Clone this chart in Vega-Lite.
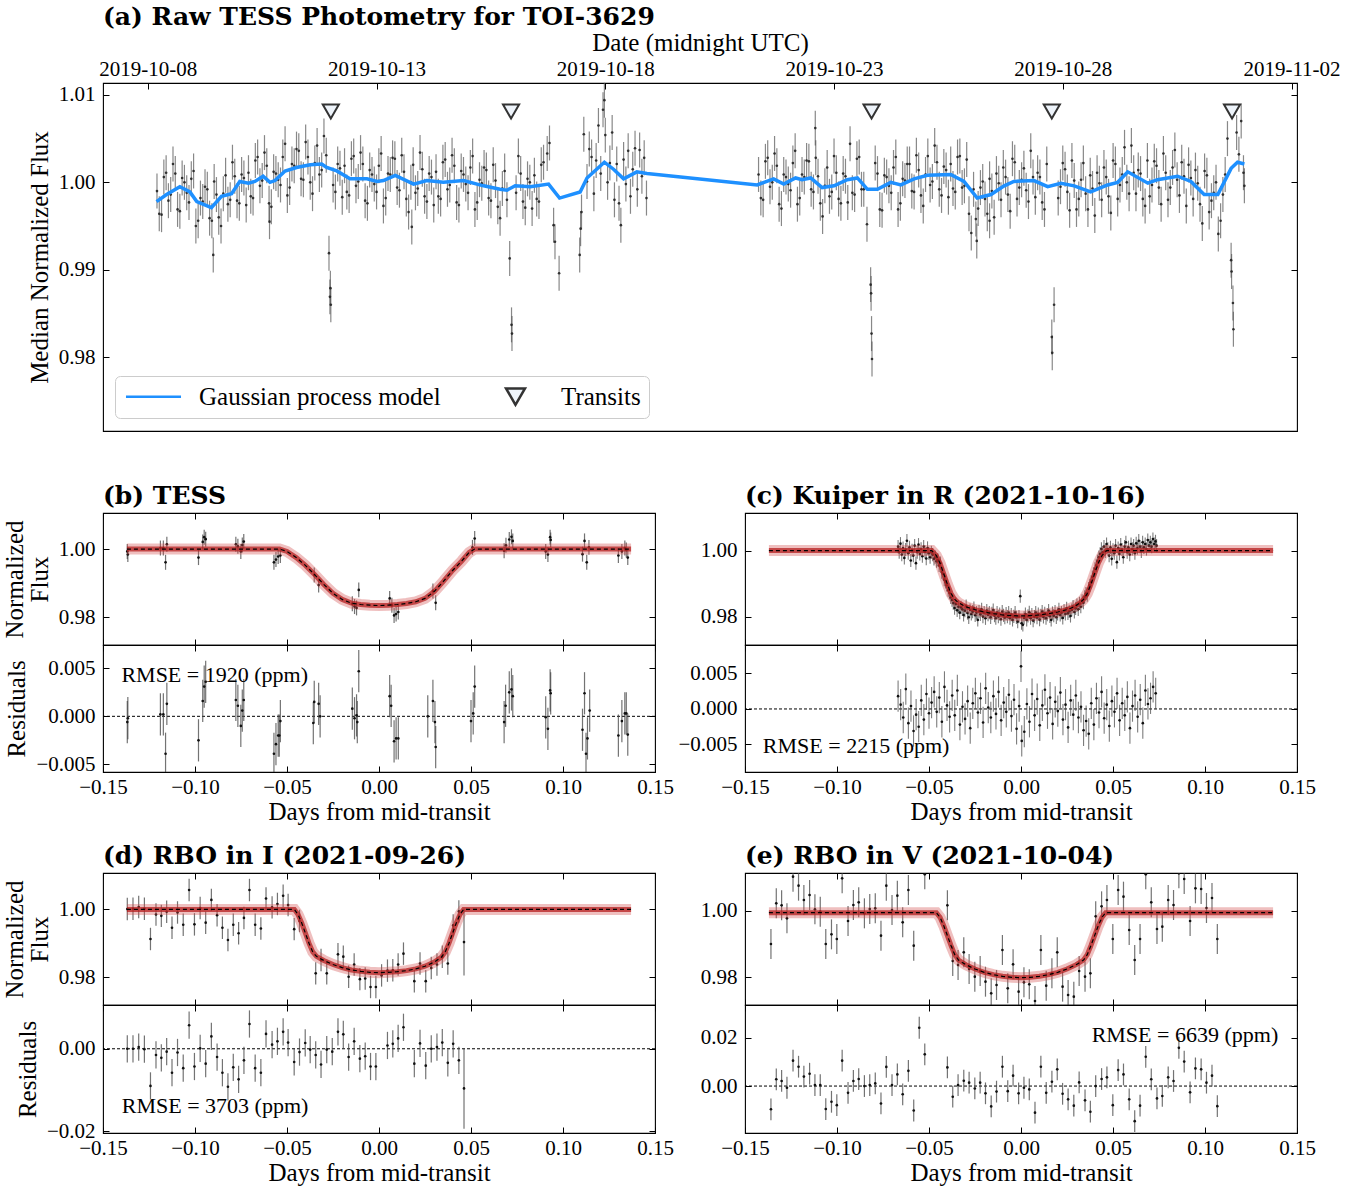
{
"$schema": "https://vega.github.io/schema/vega-lite/v6.json",
"background": "white",
"padding": {"left": 1, "top": 4, "right": 5, "bottom": 5},
"spacing": 50,
"config": {
 "view": {"stroke": "black", "strokeWidth": 1.1},
 "font": "Liberation Serif",
 "axis": {"domain": false, "grid": false, "ticks": true, "tickColor": "black", "tickSize": -6, "tickWidth": 1, "labelFont": "Liberation Serif", "labelFontSize": 21, "labelColor": "black", "labelPadding": 10, "labelFlush": false, "labelOverlap": false, "titleFont": "Liberation Serif", "titleFontSize": 25, "titleFontWeight": "normal", "titleColor": "black", "titlePadding": 6, "titleLineHeight": 25},
 "axisLeft": {"labelPadding": 14},
 "axisRight": {"labelPadding": 14},
 "axisTop": {"titlePadding": 3},
 "title": {"font": "DejaVu Serif", "fontSize": 25, "fontWeight": "bold", "anchor": "start", "frame": "group", "color": "black", "offset": 4}
},
"datasets": {
 "ptsA": [
  {"t":1764.70,"f":0.9990,"e":0.002},{"t":1764.80,"f":0.9963,"e":0.002},{"t":1764.90,"f":1.0011,"e":0.002},{"t":1765.00,"f":0.9986,"e":0.002},{"t":1765.10,"f":1.0010,"e":0.002},{"t":1765.20,"f":0.9967,"e":0.002},{"t":1765.30,"f":1.0000,"e":0.002},{"t":1765.40,"f":0.9977,"e":0.002},{"t":1765.50,"f":1.0013,"e":0.002},{"t":1765.60,"f":0.9956,"e":0.002},{"t":1765.70,"f":0.9978,"e":0.002},{"t":1765.80,"f":0.9992,"e":0.002},{"t":1765.90,"f":0.9956,"e":0.002},{"t":1765.93,"f":0.9917,"e":0.002},{"t":1766.00,"f":0.9986,"e":0.002},{"t":1766.10,"f":0.9950,"e":0.002},{"t":1766.20,"f":1.0008,"e":0.002},{"t":1766.30,"f":0.9980,"e":0.002},{"t":1766.40,"f":1.0007,"e":0.002},{"t":1766.50,"f":0.9976,"e":0.002},{"t":1766.60,"f":1.0005,"e":0.002},{"t":1766.70,"f":1.0011,"e":0.002},{"t":1766.80,"f":0.9982,"e":0.002},{"t":1766.90,"f":1.0029,"e":0.002},{"t":1767.00,"f":1.0002,"e":0.002},{"t":1767.10,"f":1.0019,"e":0.002},{"t":1767.16,"f":0.9955,"e":0.002},{"t":1767.20,"f":0.9972,"e":0.002},{"t":1767.30,"f":1.0010,"e":0.002},{"t":1767.40,"f":0.9997,"e":0.002},{"t":1767.50,"f":1.0044,"e":0.002},{"t":1767.60,"f":0.9994,"e":0.002},{"t":1767.70,"f":1.0019,"e":0.002},{"t":1767.80,"f":1.0036,"e":0.002},{"t":1767.90,"f":1.0003,"e":0.002},{"t":1768.00,"f":1.0029,"e":0.002},{"t":1768.10,"f":0.9987,"e":0.002},{"t":1768.20,"f":1.0042,"e":0.002},{"t":1768.30,"f":1.0014,"e":0.002},{"t":1768.40,"f":1.0031,"e":0.002},{"t":1768.46,"f":0.9919,"e":0.002},{"t":1768.48,"f":0.9869,"e":0.002},{"t":1768.49,"f":0.9879,"e":0.002},{"t":1768.50,"f":0.9860,"e":0.002},{"t":1768.60,"f":0.9989,"e":0.002},{"t":1768.70,"f":1.0016,"e":0.002},{"t":1768.80,"f":1.0019,"e":0.002},{"t":1768.90,"f":0.9985,"e":0.002},{"t":1769.00,"f":1.0030,"e":0.002},{"t":1769.10,"f":1.0001,"e":0.002},{"t":1769.20,"f":1.0021,"e":0.002},{"t":1769.30,"f":0.9976,"e":0.002},{"t":1769.40,"f":1.0009,"e":0.002},{"t":1769.50,"f":0.9989,"e":0.002},{"t":1769.60,"f":1.0033,"e":0.002},{"t":1769.70,"f":0.9982,"e":0.002},{"t":1769.80,"f":1.0009,"e":0.002},{"t":1769.90,"f":1.0027,"e":0.002},{"t":1770.00,"f":0.9991,"e":0.002},{"t":1770.10,"f":1.0012,"e":0.002},{"t":1770.20,"f":0.9966,"e":0.002},{"t":1770.27,"f":0.9949,"e":0.002},{"t":1770.30,"f":1.0020,"e":0.002},{"t":1770.40,"f":0.9993,"e":0.002},{"t":1770.50,"f":1.0015,"e":0.002},{"t":1770.60,"f":0.9978,"e":0.002},{"t":1770.70,"f":1.0006,"e":0.002},{"t":1770.80,"f":1.0012,"e":0.002},{"t":1770.90,"f":0.9981,"e":0.002},{"t":1771.00,"f":1.0026,"e":0.002},{"t":1771.10,"f":0.9997,"e":0.002},{"t":1771.20,"f":1.0019,"e":0.002},{"t":1771.30,"f":0.9974,"e":0.002},{"t":1771.40,"f":1.0009,"e":0.002},{"t":1771.50,"f":0.9988,"e":0.002},{"t":1771.60,"f":1.0030,"e":0.002},{"t":1771.70,"f":0.9977,"e":0.002},{"t":1771.80,"f":0.9999,"e":0.002},{"t":1771.90,"f":1.0014,"e":0.002},{"t":1772.00,"f":0.9979,"e":0.002},{"t":1772.10,"f":1.0002,"e":0.002},{"t":1772.20,"f":0.9959,"e":0.002},{"t":1772.30,"f":1.0013,"e":0.002},{"t":1772.41,"f":0.9913,"e":0.002},{"t":1772.45,"f":0.9837,"e":0.002},{"t":1772.46,"f":0.9827,"e":0.002},{"t":1772.55,"f":0.9988,"e":0.002},{"t":1772.65,"f":1.0010,"e":0.002},{"t":1772.75,"f":0.9971,"e":0.002},{"t":1772.85,"f":1.0000,"e":0.002},{"t":1772.95,"f":1.0008,"e":0.002},{"t":1773.05,"f":0.9978,"e":0.002},{"t":1773.15,"f":1.0023,"e":0.002},{"t":1773.23,"f":1.0033,"e":0.002},{"t":1773.28,"f":1.0045,"e":0.002},{"t":1773.37,"f":0.9951,"e":0.002},{"t":1773.40,"f":0.9932,"e":0.002},{"t":1773.49,"f":0.9896,"e":0.002},{"t":1773.94,"f":0.9917,"e":0.002},{"t":1773.96,"f":0.9947,"e":0.002},{"t":1773.98,"f":0.9966,"e":0.002},{"t":1774.03,"f":1.0055,"e":0.002},{"t":1774.10,"f":1.0001,"e":0.002},{"t":1774.15,"f":1.0038,"e":0.002},{"t":1774.20,"f":1.0029,"e":0.002},{"t":1774.25,"f":0.9987,"e":0.002},{"t":1774.30,"f":1.0025,"e":0.002},{"t":1774.35,"f":1.0065,"e":0.002},{"t":1774.40,"f":1.0010,"e":0.002},{"t":1774.45,"f":1.0083,"e":0.002},{"t":1774.48,"f":1.0094,"e":0.002},{"t":1774.50,"f":1.0054,"e":0.002},{"t":1774.55,"f":1.0000,"e":0.002},{"t":1774.60,"f":1.0022,"e":0.002},{"t":1774.65,"f":1.0057,"e":0.002},{"t":1774.70,"f":0.9980,"e":0.002},{"t":1774.75,"f":1.0021,"e":0.002},{"t":1774.80,"f":0.9976,"e":0.002},{"t":1774.84,"f":0.9951,"e":0.002},{"t":1774.90,"f":1.0026,"e":0.002},{"t":1774.95,"f":0.9998,"e":0.002},{"t":1775.00,"f":1.0036,"e":0.002},{"t":1775.05,"f":0.9984,"e":0.002},{"t":1775.10,"f":1.0015,"e":0.002},{"t":1775.15,"f":1.0039,"e":0.002},{"t":1775.20,"f":0.9992,"e":0.002},{"t":1775.25,"f":1.0037,"e":0.002},{"t":1775.30,"f":1.0007,"e":0.002},{"t":1775.35,"f":1.0028,"e":0.002},{"t":1775.40,"f":0.9982,"e":0.002},
  {"t":1764.75,"f":0.9964,"e":0.002},{"t":1764.85,"f":1.0006,"e":0.002},{"t":1764.95,"f":0.9979,"e":0.002},{"t":1765.05,"f":1.0021,"e":0.002},{"t":1765.15,"f":0.9969,"e":0.002},{"t":1765.25,"f":1.0005,"e":0.002},{"t":1765.35,"f":0.9988,"e":0.002},{"t":1765.45,"f":1.0004,"e":0.002},{"t":1765.55,"f":0.9950,"e":0.002},{"t":1765.65,"f":0.9982,"e":0.002},{"t":1765.75,"f":0.9995,"e":0.002},{"t":1765.85,"f":0.9959,"e":0.002},{"t":1765.95,"f":1.0001,"e":0.002},{"t":1766.05,"f":0.9960,"e":0.002},{"t":1766.15,"f":0.9987,"e":0.002},{"t":1766.25,"f":0.9975,"e":0.002},{"t":1766.35,"f":1.0023,"e":0.002},{"t":1766.45,"f":0.9979,"e":0.002},{"t":1766.55,"f":1.0009,"e":0.002},{"t":1766.65,"f":0.9974,"e":0.002},{"t":1766.75,"f":0.9984,"e":0.002},{"t":1766.85,"f":1.0025,"e":0.002},{"t":1766.95,"f":0.9996,"e":0.002},{"t":1767.05,"f":1.0034,"e":0.002},{"t":1767.15,"f":0.9976,"e":0.002},{"t":1767.25,"f":1.0012,"e":0.002},{"t":1767.35,"f":1.0003,"e":0.002},{"t":1767.45,"f":1.0029,"e":0.002},{"t":1767.55,"f":0.9985,"e":0.002},{"t":1767.65,"f":1.0021,"e":0.002},{"t":1767.75,"f":1.0038,"e":0.002},{"t":1767.85,"f":1.0004,"e":0.002},{"t":1767.95,"f":1.0046,"e":0.002},{"t":1768.05,"f":1.0000,"e":0.002},{"t":1768.15,"f":1.0022,"e":0.002},{"t":1768.25,"f":1.0009,"e":0.002},{"t":1768.35,"f":1.0053,"e":0.002},{"t":1768.55,"f":0.9997,"e":0.002},{"t":1768.65,"f":1.0021,"e":0.002},{"t":1768.75,"f":0.9983,"e":0.002},{"t":1768.85,"f":0.9989,"e":0.002},{"t":1768.95,"f":1.0027,"e":0.002},{"t":1769.05,"f":0.9996,"e":0.002},{"t":1769.15,"f":1.0034,"e":0.002},{"t":1769.25,"f":0.9979,"e":0.002},{"t":1769.35,"f":1.0014,"e":0.002},{"t":1769.45,"f":0.9998,"e":0.002},{"t":1769.55,"f":1.0019,"e":0.002},{"t":1769.65,"f":0.9973,"e":0.002},{"t":1769.75,"f":1.0010,"e":0.002},{"t":1769.85,"f":1.0028,"e":0.002},{"t":1769.95,"f":0.9994,"e":0.002},{"t":1770.05,"f":1.0031,"e":0.002},{"t":1770.15,"f":0.9981,"e":0.002},{"t":1770.25,"f":1.0000,"e":0.002},{"t":1770.35,"f":0.9988,"e":0.002},{"t":1770.45,"f":1.0034,"e":0.002},{"t":1770.55,"f":0.9984,"e":0.002},{"t":1770.65,"f":1.0010,"e":0.002},{"t":1770.75,"f":0.9974,"e":0.002},{"t":1770.85,"f":0.9984,"e":0.002},{"t":1770.95,"f":1.0023,"e":0.002},{"t":1771.05,"f":0.9992,"e":0.002},{"t":1771.15,"f":1.0031,"e":0.002},{"t":1771.25,"f":0.9977,"e":0.002},{"t":1771.35,"f":1.0013,"e":0.002},{"t":1771.45,"f":0.9998,"e":0.002},{"t":1771.55,"f":1.0017,"e":0.002},{"t":1771.65,"f":0.9969,"e":0.002},{"t":1771.75,"f":1.0003,"e":0.002},{"t":1771.85,"f":1.0017,"e":0.002},{"t":1771.95,"f":0.9982,"e":0.002},{"t":1772.05,"f":1.0020,"e":0.002},{"t":1772.15,"f":0.9972,"e":0.002},{"t":1772.25,"f":0.9993,"e":0.002},{"t":1772.35,"f":0.9980,"e":0.002},{"t":1772.60,"f":1.0030,"e":0.002},{"t":1772.70,"f":0.9978,"e":0.002},{"t":1772.80,"f":1.0004,"e":0.002},{"t":1772.90,"f":0.9970,"e":0.002},{"t":1773.00,"f":0.9981,"e":0.002},{"t":1773.10,"f":1.0020,"e":0.002},
  {"t":1777.85,"f":1.0009,"e":0.002},{"t":1777.95,"f":0.9980,"e":0.002},{"t":1778.05,"f":1.0028,"e":0.002},{"t":1778.15,"f":1.0000,"e":0.002},{"t":1778.25,"f":1.0019,"e":0.002},{"t":1778.35,"f":0.9970,"e":0.002},{"t":1778.45,"f":1.0006,"e":0.002},{"t":1778.55,"f":0.9991,"e":0.002},{"t":1778.65,"f":1.0036,"e":0.002},{"t":1778.75,"f":0.9982,"e":0.002},{"t":1778.85,"f":1.0006,"e":0.002},{"t":1778.95,"f":1.0024,"e":0.002},{"t":1779.05,"f":0.9989,"e":0.002},{"t":1779.09,"f":1.0062,"e":0.002},{"t":1779.15,"f":1.0007,"e":0.002},{"t":1779.25,"f":0.9961,"e":0.002},{"t":1779.35,"f":1.0017,"e":0.002},{"t":1779.45,"f":0.9989,"e":0.002},{"t":1779.55,"f":1.0011,"e":0.002},{"t":1779.65,"f":0.9976,"e":0.002},{"t":1779.75,"f":1.0007,"e":0.002},{"t":1779.85,"f":1.0044,"e":0.002},{"t":1779.95,"f":0.9986,"e":0.002},{"t":1780.05,"f":1.0029,"e":0.002},{"t":1780.15,"f":0.9992,"e":0.002},{"t":1780.22,"f":0.9952,"e":0.002},{"t":1780.30,"f":0.9883,"e":0.002},{"t":1780.31,"f":0.9873,"e":0.002},{"t":1780.32,"f":0.9827,"e":0.002},{"t":1780.33,"f":0.9798,"e":0.002},{"t":1780.45,"f":1.0010,"e":0.002},{"t":1780.55,"f":0.9968,"e":0.002},{"t":1780.65,"f":1.0006,"e":0.002},{"t":1780.75,"f":0.9988,"e":0.002},{"t":1780.85,"f":1.0029,"e":0.002},{"t":1780.95,"f":0.9976,"e":0.002},{"t":1781.05,"f":1.0002,"e":0.002},{"t":1781.15,"f":1.0021,"e":0.002},{"t":1781.25,"f":0.9989,"e":0.002},{"t":1781.35,"f":1.0014,"e":0.002},{"t":1781.45,"f":0.9973,"e":0.002},{"t":1781.55,"f":1.0030,"e":0.002},{"t":1781.65,"f":1.0001,"e":0.002},{"t":1781.75,"f":1.0023,"e":0.002},{"t":1781.85,"f":0.9985,"e":0.002},{"t":1781.95,"f":1.0014,"e":0.002},{"t":1782.05,"f":1.0021,"e":0.002},{"t":1782.15,"f":0.9989,"e":0.002},{"t":1782.25,"f":1.0030,"e":0.002},{"t":1782.35,"f":0.9996,"e":0.002},{"t":1782.45,"f":0.9964,"e":0.002},{"t":1782.50,"f":0.9942,"e":0.002},{"t":1782.55,"f":0.9992,"e":0.002},{"t":1782.62,"f":0.9933,"e":0.002},{"t":1782.65,"f":0.9970,"e":0.002},{"t":1782.75,"f":1.0001,"e":0.002},{"t":1782.85,"f":0.9964,"e":0.002},{"t":1782.90,"f":0.9956,"e":0.002},{"t":1782.95,"f":0.9990,"e":0.002},{"t":1783.05,"f":1.0010,"e":0.002},{"t":1783.15,"f":0.9980,"e":0.002},{"t":1783.25,"f":1.0006,"e":0.002},{"t":1783.35,"f":0.9967,"e":0.002},{"t":1783.45,"f":1.0023,"e":0.002},{"t":1783.55,"f":0.9994,"e":0.002},{"t":1783.65,"f":1.0016,"e":0.002},{"t":1783.75,"f":0.9978,"e":0.002},{"t":1783.85,"f":1.0006,"e":0.002},{"t":1783.95,"f":1.0011,"e":0.002},{"t":1784.05,"f":0.9977,"e":0.002},{"t":1784.15,"f":1.0021,"e":0.002},{"t":1784.26,"f":0.9823,"e":0.002},{"t":1784.27,"f":0.9805,"e":0.002},{"t":1784.31,"f":0.9860,"e":0.002},{"t":1784.45,"f":0.9995,"e":0.002},{"t":1784.55,"f":1.0015,"e":0.002},{"t":1784.65,"f":0.9968,"e":0.002},{"t":1784.75,"f":1.0002,"e":0.002},{"t":1784.85,"f":0.9981,"e":0.002},{"t":1784.95,"f":1.0022,"e":0.002},{"t":1785.05,"f":0.9969,"e":0.002},{"t":1785.15,"f":0.9993,"e":0.002},{"t":1785.25,"f":1.0011,"e":0.002},{"t":1785.35,"f":0.9980,"e":0.002},{"t":1785.45,"f":1.0006,"e":0.002},{"t":1785.55,"f":0.9965,"e":0.002},{"t":1785.65,"f":1.0021,"e":0.002},{"t":1785.75,"f":0.9997,"e":0.002},{"t":1785.85,"f":1.0040,"e":0.002},{"t":1785.95,"f":0.9987,"e":0.002},{"t":1786.05,"f":1.0011,"e":0.002},{"t":1786.15,"f":1.0014,"e":0.002},{"t":1786.25,"f":0.9981,"e":0.002},{"t":1786.35,"f":1.0025,"e":0.002},{"t":1786.45,"f":0.9997,"e":0.002},{"t":1786.55,"f":1.0019,"e":0.002},{"t":1786.65,"f":0.9975,"e":0.002},{"t":1786.75,"f":1.0011,"e":0.002},{"t":1786.85,"f":0.9994,"e":0.002},{"t":1786.95,"f":1.0037,"e":0.002},{"t":1787.05,"f":0.9985,"e":0.002},{"t":1787.15,"f":1.0007,"e":0.002},{"t":1787.25,"f":1.0020,"e":0.002},{"t":1787.35,"f":0.9981,"e":0.002},{"t":1787.45,"f":0.9999,"e":0.002},{"t":1787.55,"f":0.9953,"e":0.002},{"t":1787.65,"f":1.0008,"e":0.002},{"t":1787.75,"f":0.9979,"e":0.002},{"t":1787.85,"f":1.0000,"e":0.002},{"t":1787.90,"f":0.9941,"e":0.002},{"t":1787.95,"f":0.9956,"e":0.002},{"t":1788.05,"f":1.0009,"e":0.002},{"t":1788.10,"f":1.0050,"e":0.002},{"t":1788.18,"f":0.9911,"e":0.002},{"t":1788.19,"f":0.9898,"e":0.002},{"t":1788.22,"f":0.9862,"e":0.002},{"t":1788.23,"f":0.9832,"e":0.002},{"t":1788.30,"f":1.0057,"e":0.002},{"t":1788.35,"f":1.0032,"e":0.002},{"t":1788.40,"f":1.0070,"e":0.002},{"t":1788.45,"f":1.0011,"e":0.002},{"t":1788.47,"f":0.9996,"e":0.002},
  {"t":1777.90,"f":0.9982,"e":0.002},{"t":1778.00,"f":1.0024,"e":0.002},{"t":1778.10,"f":0.9995,"e":0.002},{"t":1778.20,"f":1.0033,"e":0.002},{"t":1778.30,"f":0.9975,"e":0.002},{"t":1778.40,"f":1.0009,"e":0.002},{"t":1778.50,"f":0.9998,"e":0.002},{"t":1778.60,"f":1.0022,"e":0.002},{"t":1778.70,"f":0.9975,"e":0.002},{"t":1778.80,"f":1.0009,"e":0.002},{"t":1778.90,"f":1.0025,"e":0.002},{"t":1779.00,"f":0.9992,"e":0.002},{"t":1779.10,"f":1.0028,"e":0.002},{"t":1779.20,"f":0.9976,"e":0.002},{"t":1779.30,"f":0.9996,"e":0.002},{"t":1779.40,"f":0.9984,"e":0.002},{"t":1779.50,"f":1.0030,"e":0.002},{"t":1779.60,"f":0.9981,"e":0.002},{"t":1779.70,"f":1.0010,"e":0.002},{"t":1779.80,"f":0.9977,"e":0.002},{"t":1779.90,"f":0.9988,"e":0.002},{"t":1780.00,"f":1.0027,"e":0.002},{"t":1780.10,"f":0.9992,"e":0.002},{"t":1780.40,"f":1.0022,"e":0.002},{"t":1780.50,"f":0.9969,"e":0.002},{"t":1780.60,"f":1.0008,"e":0.002},{"t":1780.70,"f":0.9996,"e":0.002},{"t":1780.80,"f":1.0017,"e":0.002},{"t":1780.90,"f":0.9969,"e":0.002},{"t":1781.00,"f":1.0004,"e":0.002},{"t":1781.10,"f":1.0021,"e":0.002},{"t":1781.20,"f":0.9990,"e":0.002},{"t":1781.30,"f":1.0031,"e":0.002},{"t":1781.40,"f":0.9985,"e":0.002},{"t":1781.50,"f":1.0009,"e":0.002},{"t":1781.60,"f":0.9997,"e":0.002},{"t":1781.70,"f":1.0042,"e":0.002},{"t":1781.80,"f":0.9992,"e":0.002},{"t":1781.90,"f":1.0018,"e":0.002},{"t":1782.00,"f":0.9983,"e":0.002},{"t":1782.10,"f":0.9993,"e":0.002},{"t":1782.20,"f":1.0029,"e":0.002},{"t":1782.30,"f":0.9994,"e":0.002},{"t":1782.40,"f":1.0026,"e":0.002},{"t":1782.60,"f":0.9958,"e":0.002},{"t":1782.70,"f":0.9994,"e":0.002},{"t":1782.80,"f":0.9981,"e":0.002},{"t":1782.90,"f":1.0004,"e":0.002},{"t":1783.00,"f":0.9960,"e":0.002},{"t":1783.10,"f":0.9999,"e":0.002},{"t":1783.20,"f":1.0017,"e":0.002},{"t":1783.30,"f":0.9986,"e":0.002},{"t":1783.40,"f":1.0027,"e":0.002},{"t":1783.50,"f":0.9981,"e":0.002},{"t":1783.60,"f":1.0003,"e":0.002},{"t":1783.70,"f":0.9991,"e":0.002},{"t":1783.80,"f":1.0036,"e":0.002},{"t":1783.90,"f":0.9983,"e":0.002},{"t":1784.00,"f":1.0006,"e":0.002},{"t":1784.10,"f":0.9969,"e":0.002},{"t":1784.40,"f":0.9982,"e":0.002},{"t":1784.50,"f":1.0022,"e":0.002},{"t":1784.60,"f":0.9989,"e":0.002},{"t":1784.70,"f":1.0025,"e":0.002},{"t":1784.80,"f":0.9969,"e":0.002},{"t":1784.90,"f":1.0003,"e":0.002},{"t":1785.00,"f":0.9987,"e":0.002},{"t":1785.10,"f":1.0008,"e":0.002},{"t":1785.20,"f":0.9962,"e":0.002},{"t":1785.30,"f":0.9999,"e":0.002},{"t":1785.40,"f":1.0017,"e":0.002},{"t":1785.50,"f":0.9984,"e":0.002},{"t":1785.60,"f":1.0025,"e":0.002},{"t":1785.70,"f":0.9981,"e":0.002},{"t":1785.80,"f":1.0009,"e":0.002},{"t":1785.90,"f":1.0000,"e":0.002},{"t":1786.00,"f":1.0042,"e":0.002},{"t":1786.10,"f":0.9987,"e":0.002},{"t":1786.20,"f":1.0010,"e":0.002},{"t":1786.30,"f":0.9973,"e":0.002},{"t":1786.40,"f":0.9984,"e":0.002},{"t":1786.50,"f":1.0024,"e":0.002},{"t":1786.60,"f":0.9994,"e":0.002},{"t":1786.70,"f":1.0033,"e":0.002},{"t":1786.80,"f":0.9980,"e":0.002},{"t":1786.90,"f":1.0017,"e":0.002},{"t":1787.00,"f":1.0003,"e":0.002},{"t":1787.10,"f":1.0023,"e":0.002},{"t":1787.20,"f":0.9973,"e":0.002},{"t":1787.30,"f":1.0005,"e":0.002},{"t":1787.40,"f":1.0014,"e":0.002},{"t":1787.50,"f":0.9975,"e":0.002},{"t":1787.60,"f":1.0013,"e":0.002},{"t":1787.70,"f":0.9966,"e":0.002},{"t":1787.80,"f":0.9988,"e":0.002},{"t":1788.00,"f":0.9986,"e":0.002}
 ],
 "gpA": [
  {"t":1764.69,"g":0.9978},{"t":1764.91,"g":0.9986},{"t":1765.20,"g":0.9995},{"t":1765.42,"g":0.9989},{"t":1765.57,"g":0.9978},{"t":1765.89,"g":0.9971},{"t":1766.11,"g":0.9984},{"t":1766.33,"g":0.9987},{"t":1766.51,"g":1.0001},{"t":1766.70,"g":0.9999},{"t":1766.84,"g":1.0001},{"t":1767.02,"g":1.0007},{"t":1767.17,"g":1.0000},{"t":1767.28,"g":1.0002},{"t":1767.50,"g":1.0013},{"t":1767.75,"g":1.0017},{"t":1768.05,"g":1.0020},{"t":1768.30,"g":1.0021},{"t":1768.41,"g":1.0017},{"t":1768.63,"g":1.0013},{"t":1768.92,"g":1.0004},{"t":1769.29,"g":1.0004},{"t":1769.51,"g":1.0001},{"t":1769.65,"g":1.0002},{"t":1769.91,"g":1.0008},{"t":1770.31,"g":0.9998},{"t":1770.60,"g":1.0002},{"t":1770.96,"g":1.0000},{"t":1771.40,"g":1.0002},{"t":1771.84,"g":0.9996},{"t":1772.20,"g":0.9992},{"t":1772.35,"g":0.9991},{"t":1772.53,"g":0.9996},{"t":1772.86,"g":0.9995},{"t":1773.26,"g":0.9998},{"t":1773.50,"g":0.9982},{"t":1773.95,"g":0.9989},{"t":1774.10,"g":1.0005},{"t":1774.48,"g":1.0023},{"t":1774.68,"g":1.0015},{"t":1774.90,"g":1.0004},{"t":1775.19,"g":1.0012},{"t":1775.41,"g":1.0010},{"t":1777.82,"g":0.9997},{"t":1778.18,"g":1.0004},{"t":1778.40,"g":0.9998},{"t":1778.66,"g":1.0005},{"t":1778.80,"g":1.0003},{"t":1778.99,"g":1.0005},{"t":1779.24,"g":0.9994},{"t":1779.50,"g":0.9996},{"t":1779.79,"g":1.0003},{"t":1780.01,"g":1.0005},{"t":1780.23,"g":0.9992},{"t":1780.45,"g":0.9992},{"t":1780.74,"g":1.0000},{"t":1780.96,"g":0.9997},{"t":1781.25,"g":1.0004},{"t":1781.54,"g":1.0008},{"t":1782.05,"g":1.0009},{"t":1782.34,"g":1.0001},{"t":1782.63,"g":0.9982},{"t":1782.93,"g":0.9986},{"t":1783.22,"g":0.9996},{"t":1783.43,"g":1.0001},{"t":1783.87,"g":1.0002},{"t":1784.17,"g":0.9995},{"t":1784.46,"g":0.9999},{"t":1784.75,"g":0.9996},{"t":1785.11,"g":0.9989},{"t":1785.48,"g":0.9997},{"t":1785.70,"g":1.0000},{"t":1785.92,"g":1.0012},{"t":1786.36,"g":0.9999},{"t":1786.57,"g":1.0003},{"t":1787.01,"g":1.0007},{"t":1787.30,"g":1.0001},{"t":1787.59,"g":0.9986},{"t":1787.89,"g":0.9986},{"t":1788.18,"g":1.0016},{"t":1788.32,"g":1.0023},{"t":1788.47,"g":1.0021}
 ],
 "trA": [{"t":1768.50},{"t":1772.44},{"t":1780.32},{"t":1784.26},{"t":1788.20}],
 "modB": [{"t":-0.137,"m":1.0},{"t":-0.054,"m":1.0},{"t":-0.050,"m":0.9993},{"t":-0.045,"m":0.9975},{"t":-0.040,"m":0.9952},{"t":-0.035,"m":0.9925},{"t":-0.030,"m":0.9896},{"t":-0.025,"m":0.9870},{"t":-0.020,"m":0.9852},{"t":-0.015,"m":0.9841},{"t":-0.010,"m":0.9837},{"t":-0.005,"m":0.9835},{"t":0.0,"m":0.9834},{"t":0.005,"m":0.9835},{"t":0.010,"m":0.9837},{"t":0.015,"m":0.9840},{"t":0.020,"m":0.9845},{"t":0.025,"m":0.9855},{"t":0.030,"m":0.9875},{"t":0.035,"m":0.9905},{"t":0.040,"m":0.9937},{"t":0.045,"m":0.9965},{"t":0.049,"m":0.9990},{"t":0.052,"m":1.0},{"t":0.137,"m":1.0}],
 "fluxB": [{"t":-0.1368,"f":0.9993,"e":0.0022},{"t":-0.1365,"f":0.9984,"e":0.0022},{"t":-0.1188,"f":1.0003,"e":0.0022},{"t":-0.1172,"f":1.0003,"e":0.0022},{"t":-0.1160,"f":0.9961,"e":0.0022},{"t":-0.1153,"f":1.0014,"e":0.0022},{"t":-0.0981,"f":0.9975,"e":0.0022},{"t":-0.0958,"f":1.0021,"e":0.0022},{"t":-0.0950,"f":1.0035,"e":0.0022},{"t":-0.0942,"f":1.0029,"e":0.0022},{"t":-0.0778,"f":1.0014,"e":0.0022},{"t":-0.0767,"f":1.0008,"e":0.0022},{"t":-0.0751,"f":0.9993,"e":0.0022},{"t":-0.0743,"f":1.0012,"e":0.0022},{"t":-0.0735,"f":1.0022,"e":0.0022},{"t":-0.0571,"f":0.9961,"e":0.0022},{"t":-0.0560,"f":0.9969,"e":0.0022},{"t":-0.0548,"f":0.9978,"e":0.0022},{"t":-0.0536,"f":0.9981,"e":0.0022},{"t":-0.0352,"f":0.9924,"e":0.0022},{"t":-0.0328,"f":0.9894,"e":0.0022},{"t":-0.0145,"f":0.9839,"e":0.0022},{"t":-0.0133,"f":0.9831,"e":0.0022},{"t":-0.0122,"f":0.9827,"e":0.0022},{"t":-0.0110,"f":0.9880,"e":0.0022},{"t":0.0058,"f":0.9855,"e":0.0022},{"t":0.0070,"f":0.9835,"e":0.0022},{"t":0.0082,"f":0.9805,"e":0.0022},{"t":0.0093,"f":0.9809,"e":0.0022},{"t":0.0105,"f":0.9815,"e":0.0022},{"t":0.0293,"f":0.9877,"e":0.0022},{"t":0.0308,"f":0.9842,"e":0.0022},{"t":0.0508,"f":1.0005,"e":0.0022},{"t":0.0520,"f":1.0031,"e":0.0022},{"t":0.0680,"f":0.9995,"e":0.0022},{"t":0.0690,"f":1.0011,"e":0.0022},{"t":0.0708,"f":1.0028,"e":0.0022},{"t":0.0720,"f":1.0036,"e":0.0022},{"t":0.0727,"f":1.0024,"e":0.0022},{"t":0.0906,"f":0.9993,"e":0.0022},{"t":0.0918,"f":0.9984,"e":0.0022},{"t":0.0930,"f":1.0035,"e":0.0022},{"t":0.0933,"f":1.0027,"e":0.0022},{"t":0.1106,"f":0.9985,"e":0.0022},{"t":0.1117,"f":1.0024,"e":0.0022},{"t":0.1129,"f":0.9961,"e":0.0022},{"t":0.1141,"f":1.0005,"e":0.0022},{"t":0.1301,"f":0.9981,"e":0.0022},{"t":0.1320,"f":0.9993,"e":0.0022},{"t":0.1336,"f":1.0003,"e":0.0022},{"t":0.1344,"f":0.9997,"e":0.0022},{"t":0.1352,"f":0.9975,"e":0.0022}],
 "resB": [{"t":-0.1368,"r":-0.0006,"e":0.0022},{"t":-0.1365,"r":-0.0002,"e":0.0022},{"t":-0.1188,"r":0.0002,"e":0.0022},{"t":-0.1172,"r":0.0002,"e":0.0022},{"t":-0.1160,"r":-0.0039,"e":0.0022},{"t":-0.1153,"r":0.0013,"e":0.0022},{"t":-0.0981,"r":-0.0025,"e":0.0022},{"t":-0.0958,"r":0.0016,"e":0.0022},{"t":-0.0950,"r":0.0031,"e":0.0022},{"t":-0.0942,"r":0.0036,"e":0.0022},{"t":-0.0778,"r":0.0017,"e":0.0022},{"t":-0.0767,"r":0.0011,"e":0.0022},{"t":-0.0751,"r":-0.0010,"e":0.0022},{"t":-0.0743,"r":0.0006,"e":0.0022},{"t":-0.0735,"r":0.0017,"e":0.0022},{"t":-0.0571,"r":-0.0039,"e":0.0022},{"t":-0.0560,"r":-0.0029,"e":0.0022},{"t":-0.0548,"r":-0.0020,"e":0.0022},{"t":-0.0542,"r":-0.0020,"e":0.0022},{"t":-0.0536,"r":-0.0005,"e":0.0022},{"t":-0.0357,"r":-0.0007,"e":0.0022},{"t":-0.0352,"r":0.0015,"e":0.0022},{"t":-0.0328,"r":0.0013,"e":0.0022},{"t":-0.0320,"r":0.0000,"e":0.0022},{"t":-0.0145,"r":0.0008,"e":0.0022},{"t":-0.0133,"r":-0.0002,"e":0.0022},{"t":-0.0122,"r":0.0001,"e":0.0022},{"t":-0.0118,"r":-0.0006,"e":0.0022},{"t":-0.0110,"r":0.0047,"e":0.0022},{"t":0.0058,"r":0.0021,"e":0.0022},{"t":0.0066,"r":0.0011,"e":0.0022},{"t":0.0082,"r":-0.0026,"e":0.0022},{"t":0.0093,"r":-0.0023,"e":0.0022},{"t":0.0105,"r":-0.0023,"e":0.0022},{"t":0.0265,"r":0.0000,"e":0.0022},{"t":0.0293,"r":0.0016,"e":0.0022},{"t":0.0304,"r":-0.0006,"e":0.0022},{"t":0.0308,"r":-0.0032,"e":0.0022},{"t":0.0500,"r":-0.0005,"e":0.0022},{"t":0.0512,"r":0.0003,"e":0.0022},{"t":0.0520,"r":0.0031,"e":0.0022},{"t":0.0680,"r":-0.0006,"e":0.0022},{"t":0.0688,"r":0.0011,"e":0.0022},{"t":0.0708,"r":0.0025,"e":0.0022},{"t":0.0720,"r":0.0028,"e":0.0022},{"t":0.0727,"r":0.0021,"e":0.0022},{"t":0.0906,"r":-0.0001,"e":0.0022},{"t":0.0918,"r":-0.0013,"e":0.0022},{"t":0.0930,"r":0.0027,"e":0.0022},{"t":0.0933,"r":0.0024,"e":0.0022},{"t":0.1106,"r":-0.0014,"e":0.0022},{"t":0.1117,"r":0.0024,"e":0.0022},{"t":0.1125,"r":-0.0039,"e":0.0022},{"t":0.1133,"r":-0.0023,"e":0.0022},{"t":0.1145,"r":0.0006,"e":0.0022},{"t":0.1301,"r":-0.0020,"e":0.0022},{"t":0.1320,"r":-0.0005,"e":0.0022},{"t":0.1336,"r":0.0003,"e":0.0022},{"t":0.1344,"r":0.0003,"e":0.0022},{"t":0.1352,"r":-0.0019,"e":0.0022}],
 "modC": [{"t":-0.137,"m":1.0},{"t":-0.0485,"m":1.0},{"t":-0.046,"m":0.9985},{"t":-0.044,"m":0.9962},{"t":-0.042,"m":0.9930},{"t":-0.040,"m":0.9898},{"t":-0.038,"m":0.9870},{"t":-0.036,"m":0.9852},{"t":-0.034,"m":0.9842},{"t":-0.030,"m":0.9830},{"t":-0.025,"m":0.9821},{"t":-0.020,"m":0.9814},{"t":-0.015,"m":0.9809},{"t":-0.010,"m":0.9805},{"t":-0.005,"m":0.9803},{"t":0.0,"m":0.9802},{"t":0.005,"m":0.9803},{"t":0.010,"m":0.9805},{"t":0.015,"m":0.9809},{"t":0.020,"m":0.9814},{"t":0.025,"m":0.9821},{"t":0.029,"m":0.9830},{"t":0.032,"m":0.9842},{"t":0.034,"m":0.9852},{"t":0.036,"m":0.9870},{"t":0.038,"m":0.9898},{"t":0.040,"m":0.9930},{"t":0.042,"m":0.9962},{"t":0.044,"m":0.9985},{"t":0.0465,"m":1.0},{"t":0.137,"m":1.0}],
 "fluxC": [{"t":-0.0668,"f":1.0012,"e":0.002},{"t":-0.0662,"f":0.9995,"e":0.002},{"t":-0.0655,"f":1.0021,"e":0.002},{"t":-0.0648,"f":0.9988,"e":0.002},{"t":-0.0641,"f":1.0008,"e":0.002},{"t":-0.0634,"f":0.9978,"e":0.002},{"t":-0.0627,"f":1.0003,"e":0.002},{"t":-0.0620,"f":1.0030,"e":0.002},{"t":-0.0613,"f":0.9992,"e":0.002},{"t":-0.0606,"f":1.0010,"e":0.002},{"t":-0.0599,"f":0.9970,"e":0.002},{"t":-0.0592,"f":1.0001,"e":0.002},{"t":-0.0585,"f":0.9985,"e":0.002},{"t":-0.0578,"f":1.0015,"e":0.002},{"t":-0.0571,"f":0.9962,"e":0.002},{"t":-0.0564,"f":0.9995,"e":0.002},{"t":-0.0557,"f":1.0018,"e":0.002},{"t":-0.0550,"f":0.9990,"e":0.002},{"t":-0.0543,"f":1.0005,"e":0.002},{"t":-0.0536,"f":0.9983,"e":0.002},{"t":-0.0529,"f":1.0012,"e":0.002},{"t":-0.0522,"f":0.9996,"e":0.002},{"t":-0.0515,"f":0.9976,"e":0.002},{"t":-0.0508,"f":1.0008,"e":0.002},{"t":-0.0501,"f":0.9992,"e":0.002},{"t":-0.0494,"f":0.9980,"e":0.002},{"t":-0.0487,"f":0.9995,"e":0.002},{"t":-0.0480,"f":0.9988,"e":0.002},{"t":-0.0473,"f":0.9975,"e":0.002},{"t":-0.0466,"f":0.9980,"e":0.002},{"t":-0.0459,"f":0.9968,"e":0.002},{"t":-0.0452,"f":0.9972,"e":0.002},{"t":-0.0445,"f":0.9955,"e":0.002},{"t":-0.0438,"f":0.9962,"e":0.002},{"t":-0.0431,"f":0.9935,"e":0.002},{"t":-0.0424,"f":0.9930,"e":0.002},{"t":-0.0417,"f":0.9912,"e":0.002},{"t":-0.0410,"f":0.9905,"e":0.002},{"t":-0.0403,"f":0.9895,"e":0.002},{"t":-0.0396,"f":0.9880,"e":0.002},{"t":-0.0389,"f":0.9872,"e":0.002},{"t":-0.0382,"f":0.9858,"e":0.002},{"t":-0.0375,"f":0.9850,"e":0.002},{"t":-0.0368,"f":0.9841,"e":0.002},{"t":-0.0361,"f":0.9826,"e":0.002},{"t":-0.0354,"f":0.9838,"e":0.002},{"t":-0.0347,"f":0.9819,"e":0.002},{"t":-0.0340,"f":0.9830,"e":0.002},{"t":-0.0333,"f":0.9812,"e":0.002},{"t":-0.0326,"f":0.9828,"e":0.002},{"t":-0.0319,"f":0.9822,"e":0.002},{"t":-0.0312,"f":0.9805,"e":0.002},{"t":-0.0305,"f":0.9818,"e":0.002},{"t":-0.0298,"f":0.9832,"e":0.002},{"t":-0.0291,"f":0.9811,"e":0.002},{"t":-0.0284,"f":0.9798,"e":0.002},{"t":-0.0277,"f":0.9820,"e":0.002},{"t":-0.0270,"f":0.9808,"e":0.002},{"t":-0.0263,"f":0.9815,"e":0.002},{"t":-0.0256,"f":0.9826,"e":0.002},{"t":-0.0249,"f":0.9804,"e":0.002},{"t":-0.0242,"f":0.9812,"e":0.002},{"t":-0.0235,"f":0.9790,"e":0.002},{"t":-0.0228,"f":0.9816,"e":0.002},{"t":-0.0221,"f":0.9807,"e":0.002},{"t":-0.0214,"f":0.9822,"e":0.002},{"t":-0.0207,"f":0.9800,"e":0.002},{"t":-0.0200,"f":0.9812,"e":0.002},{"t":-0.0193,"f":0.9795,"e":0.002},{"t":-0.0186,"f":0.9818,"e":0.002},{"t":-0.0179,"f":0.9806,"e":0.002},{"t":-0.0172,"f":0.9812,"e":0.002},{"t":-0.0165,"f":0.9798,"e":0.002},{"t":-0.0158,"f":0.9810,"e":0.002},{"t":-0.0151,"f":0.9820,"e":0.002},{"t":-0.0144,"f":0.9803,"e":0.002},{"t":-0.0137,"f":0.9795,"e":0.002},{"t":-0.0130,"f":0.9812,"e":0.002},{"t":-0.0123,"f":0.9800,"e":0.002},{"t":-0.0116,"f":0.9808,"e":0.002},{"t":-0.0109,"f":0.9792,"e":0.002},{"t":-0.0102,"f":0.9815,"e":0.002},{"t":-0.0095,"f":0.9804,"e":0.002},{"t":-0.0088,"f":0.9797,"e":0.002},{"t":-0.0081,"f":0.9809,"e":0.002},{"t":-0.0074,"f":0.9800,"e":0.002},{"t":-0.0067,"f":0.9812,"e":0.002},{"t":-0.0060,"f":0.9795,"e":0.002},{"t":-0.0053,"f":0.9806,"e":0.002},{"t":-0.0046,"f":0.9790,"e":0.002},{"t":-0.0039,"f":0.9801,"e":0.002},{"t":-0.0032,"f":0.9812,"e":0.002},{"t":-0.0025,"f":0.9798,"e":0.002},{"t":-0.0018,"f":0.9785,"e":0.002},{"t":-0.0011,"f":0.9800,"e":0.002},{"t":-0.0004,"f":0.9862,"e":0.002},{"t":0.0003,"f":0.9780,"e":0.002},{"t":0.0010,"f":0.9775,"e":0.002},{"t":0.0017,"f":0.9796,"e":0.002},{"t":0.0024,"f":0.9808,"e":0.002},{"t":0.0031,"f":0.9790,"e":0.002},{"t":0.0038,"f":0.9802,"e":0.002},{"t":0.0045,"f":0.9813,"e":0.002},{"t":0.0052,"f":0.9795,"e":0.002},{"t":0.0059,"f":0.9806,"e":0.002},{"t":0.0066,"f":0.9788,"e":0.002},{"t":0.0073,"f":0.9800,"e":0.002},{"t":0.0080,"f":0.9812,"e":0.002},{"t":0.0087,"f":0.9797,"e":0.002},{"t":0.0094,"f":0.9808,"e":0.002},{"t":0.0101,"f":0.9791,"e":0.002},{"t":0.0108,"f":0.9804,"e":0.002},{"t":0.0115,"f":0.9815,"e":0.002},{"t":0.0122,"f":0.9799,"e":0.002},{"t":0.0129,"f":0.9810,"e":0.002},{"t":0.0136,"f":0.9795,"e":0.002},{"t":0.0143,"f":0.9806,"e":0.002},{"t":0.0150,"f":0.9818,"e":0.002},{"t":0.0157,"f":0.9801,"e":0.002},{"t":0.0164,"f":0.9790,"e":0.002},{"t":0.0171,"f":0.9811,"e":0.002},{"t":0.0178,"f":0.9803,"e":0.002},{"t":0.0185,"f":0.9815,"e":0.002},{"t":0.0192,"f":0.9798,"e":0.002},{"t":0.0199,"f":0.9808,"e":0.002},{"t":0.0206,"f":0.9822,"e":0.002},{"t":0.0213,"f":0.9805,"e":0.002},{"t":0.0220,"f":0.9812,"e":0.002},{"t":0.0227,"f":0.9796,"e":0.002},{"t":0.0234,"f":0.9818,"e":0.002},{"t":0.0241,"f":0.9808,"e":0.002},{"t":0.0248,"f":0.9825,"e":0.002},{"t":0.0255,"f":0.9810,"e":0.002},{"t":0.0262,"f":0.9816,"e":0.002},{"t":0.0269,"f":0.9802,"e":0.002},{"t":0.0276,"f":0.9820,"e":0.002},{"t":0.0283,"f":0.9830,"e":0.002},{"t":0.0290,"f":0.9814,"e":0.002},{"t":0.0297,"f":0.9825,"e":0.002},{"t":0.0304,"f":0.9835,"e":0.002},{"t":0.0311,"f":0.9822,"e":0.002},{"t":0.0318,"f":0.9840,"e":0.002},{"t":0.0325,"f":0.9830,"e":0.002},{"t":0.0332,"f":0.9848,"e":0.002},{"t":0.0339,"f":0.9842,"e":0.002},{"t":0.0346,"f":0.9860,"e":0.002},{"t":0.0353,"f":0.9870,"e":0.002},{"t":0.0360,"f":0.9865,"e":0.002},{"t":0.0367,"f":0.9885,"e":0.002},{"t":0.0374,"f":0.9895,"e":0.002},{"t":0.0381,"f":0.9905,"e":0.002},{"t":0.0388,"f":0.9920,"e":0.002},{"t":0.0395,"f":0.9930,"e":0.002},{"t":0.0402,"f":0.9945,"e":0.002},{"t":0.0409,"f":0.9955,"e":0.002},{"t":0.0416,"f":0.9968,"e":0.002},{"t":0.0423,"f":0.9980,"e":0.002},{"t":0.0430,"f":0.9990,"e":0.002},{"t":0.0437,"f":1.0005,"e":0.002},{"t":0.0444,"f":0.9995,"e":0.002},{"t":0.0451,"f":1.0012,"e":0.002},{"t":0.0458,"f":0.9998,"e":0.002},{"t":0.0465,"f":1.0020,"e":0.002},{"t":0.0472,"f":1.0005,"e":0.002},{"t":0.0479,"f":0.9985,"e":0.002},{"t":0.0486,"f":1.0010,"e":0.002},{"t":0.0493,"f":0.9975,"e":0.002},{"t":0.0500,"f":1.0002,"e":0.002},{"t":0.0507,"f":0.9992,"e":0.002},{"t":0.0514,"f":1.0015,"e":0.002},{"t":0.0521,"f":0.9965,"e":0.002},{"t":0.0528,"f":1.0008,"e":0.002},{"t":0.0535,"f":0.9990,"e":0.002},{"t":0.0542,"f":1.0018,"e":0.002},{"t":0.0549,"f":1.0003,"e":0.002},{"t":0.0556,"f":0.9980,"e":0.002},{"t":0.0563,"f":1.0012,"e":0.002},{"t":0.0570,"f":1.0025,"e":0.002},{"t":0.0577,"f":0.9995,"e":0.002},{"t":0.0584,"f":1.0010,"e":0.002},{"t":0.0591,"f":0.9988,"e":0.002},{"t":0.0598,"f":1.0020,"e":0.002},{"t":0.0605,"f":1.0005,"e":0.002},{"t":0.0612,"f":1.0015,"e":0.002},{"t":0.0619,"f":0.9992,"e":0.002},{"t":0.0626,"f":1.0022,"e":0.002},{"t":0.0633,"f":1.0008,"e":0.002},{"t":0.0640,"f":1.0030,"e":0.002},{"t":0.0647,"f":1.0012,"e":0.002},{"t":0.0654,"f":0.9998,"e":0.002},{"t":0.0661,"f":1.0025,"e":0.002},{"t":0.0668,"f":1.0010,"e":0.002},{"t":0.0675,"f":1.0020,"e":0.002},{"t":0.0682,"f":1.0005,"e":0.002},{"t":0.0689,"f":1.0032,"e":0.002},{"t":0.0696,"f":1.0015,"e":0.002},{"t":0.0703,"f":1.0025,"e":0.002},{"t":0.0710,"f":1.0012,"e":0.002},{"t":0.0717,"f":1.0035,"e":0.002},{"t":0.0724,"f":1.0020,"e":0.002},{"t":0.0731,"f":1.0028,"e":0.002},{"t":0.0737,"f":1.0015,"e":0.002}],
 "resC": [{"t":-0.0668,"r":0.0018,"e":0.0022},{"t":-0.0654,"r":0.0006,"e":0.0022},{"t":-0.0640,"r":-0.0012,"e":0.0022},{"t":-0.0626,"r":0.0028,"e":0.0022},{"t":-0.0612,"r":-0.0020,"e":0.0022},{"t":-0.0598,"r":0.0004,"e":0.0022},{"t":-0.0584,"r":-0.0031,"e":0.0022},{"t":-0.0570,"r":-0.0008,"e":0.0022},{"t":-0.0556,"r":-0.0025,"e":0.0022},{"t":-0.0542,"r":0.0012,"e":0.0022},{"t":-0.0528,"r":-0.0015,"e":0.0022},{"t":-0.0514,"r":0.0021,"e":0.0022},{"t":-0.0500,"r":-0.0006,"e":0.0022},{"t":-0.0486,"r":0.0009,"e":0.0022},{"t":-0.0472,"r":0.0024,"e":0.0022},{"t":-0.0458,"r":-0.0004,"e":0.0022},{"t":-0.0444,"r":0.0016,"e":0.0022},{"t":-0.0430,"r":-0.0018,"e":0.0022},{"t":-0.0416,"r":0.0031,"e":0.0022},{"t":-0.0402,"r":0.0005,"e":0.0022},{"t":-0.0388,"r":-0.0011,"e":0.0022},{"t":-0.0374,"r":0.0019,"e":0.0022},{"t":-0.0360,"r":-0.0009,"e":0.0022},{"t":-0.0346,"r":0.0026,"e":0.0022},{"t":-0.0332,"r":-0.0022,"e":0.0022},{"t":-0.0318,"r":0.0003,"e":0.0022},{"t":-0.0304,"r":-0.0014,"e":0.0022},{"t":-0.0290,"r":0.0011,"e":0.0022},{"t":-0.0276,"r":-0.0027,"e":0.0022},{"t":-0.0262,"r":0.0008,"e":0.0022},{"t":-0.0248,"r":0.0022,"e":0.0022},{"t":-0.0234,"r":-0.0005,"e":0.0022},{"t":-0.0220,"r":0.0015,"e":0.0022},{"t":-0.0206,"r":-0.0019,"e":0.0022},{"t":-0.0192,"r":0.0029,"e":0.0022},{"t":-0.0178,"r":0.0002,"e":0.0022},{"t":-0.0164,"r":-0.0012,"e":0.0022},{"t":-0.0150,"r":0.0018,"e":0.0022},{"t":-0.0136,"r":-0.0007,"e":0.0022},{"t":-0.0122,"r":0.0024,"e":0.0022},{"t":-0.0108,"r":-0.0016,"e":0.0022},{"t":-0.0094,"r":0.0009,"e":0.0022},{"t":-0.0080,"r":-0.0004,"e":0.0022},{"t":-0.0066,"r":0.0020,"e":0.0022},{"t":-0.0052,"r":-0.0010,"e":0.0022},{"t":-0.0038,"r":0.0013,"e":0.0022},{"t":-0.0024,"r":-0.0028,"e":0.0022},{"t":-0.0010,"r":0.0004,"e":0.0022},{"t":0.0000,"r":0.0060,"e":0.0022},{"t":0.0004,"r":-0.0045,"e":0.0022},{"t":0.0018,"r":-0.0032,"e":0.0022},{"t":0.0032,"r":0.0007,"e":0.0022},{"t":0.0046,"r":-0.0018,"e":0.0022},{"t":0.0060,"r":0.0021,"e":0.0022},{"t":0.0074,"r":-0.0009,"e":0.0022},{"t":0.0088,"r":0.0014,"e":0.0022},{"t":0.0102,"r":-0.0023,"e":0.0022},{"t":0.0116,"r":0.0005,"e":0.0022},{"t":0.0130,"r":0.0027,"e":0.0022},{"t":0.0144,"r":-0.0006,"e":0.0022},{"t":0.0158,"r":0.0016,"e":0.0022},{"t":0.0172,"r":-0.0021,"e":0.0022},{"t":0.0186,"r":0.0010,"e":0.0022},{"t":0.0200,"r":-0.0003,"e":0.0022},{"t":0.0214,"r":0.0023,"e":0.0022},{"t":0.0228,"r":-0.0015,"e":0.0022},{"t":0.0242,"r":0.0006,"e":0.0022},{"t":0.0256,"r":-0.0026,"e":0.0022},{"t":0.0270,"r":0.0012,"e":0.0022},{"t":0.0284,"r":-0.0008,"e":0.0022},{"t":0.0298,"r":0.0019,"e":0.0022},{"t":0.0312,"r":-0.0012,"e":0.0022},{"t":0.0326,"r":0.0003,"e":0.0022},{"t":0.0340,"r":-0.0030,"e":0.0022},{"t":0.0354,"r":-0.0017,"e":0.0022},{"t":0.0368,"r":-0.0035,"e":0.0022},{"t":0.0382,"r":0.0008,"e":0.0022},{"t":0.0396,"r":-0.0022,"e":0.0022},{"t":0.0410,"r":0.0015,"e":0.0022},{"t":0.0424,"r":-0.0005,"e":0.0022},{"t":0.0438,"r":0.0024,"e":0.0022},{"t":0.0452,"r":-0.0013,"e":0.0022},{"t":0.0466,"r":0.0006,"e":0.0022},{"t":0.0480,"r":-0.0024,"e":0.0022},{"t":0.0494,"r":0.0011,"e":0.0022},{"t":0.0508,"r":-0.0004,"e":0.0022},{"t":0.0522,"r":0.0022,"e":0.0022},{"t":0.0536,"r":-0.0016,"e":0.0022},{"t":0.0550,"r":0.0008,"e":0.0022},{"t":0.0564,"r":-0.0009,"e":0.0022},{"t":0.0578,"r":0.0017,"e":0.0022},{"t":0.0592,"r":-0.0027,"e":0.0022},{"t":0.0606,"r":0.0004,"e":0.0022},{"t":0.0620,"r":0.0019,"e":0.0022},{"t":0.0634,"r":-0.0011,"e":0.0022},{"t":0.0648,"r":0.0013,"e":0.0022},{"t":0.0662,"r":-0.0020,"e":0.0022},{"t":0.0676,"r":0.0026,"e":0.0022},{"t":0.0690,"r":0.0007,"e":0.0022},{"t":0.0704,"r":0.0015,"e":0.0022},{"t":0.0718,"r":0.0031,"e":0.0022},{"t":0.0732,"r":0.0022,"e":0.0022}],
 "modD": [{"t":-0.137,"m":1.0},{"t":-0.046,"m":1.0},{"t":-0.044,"m":0.9985},{"t":-0.042,"m":0.9960},{"t":-0.040,"m":0.9930},{"t":-0.038,"m":0.9900},{"t":-0.036,"m":0.9875},{"t":-0.034,"m":0.9862},{"t":-0.030,"m":0.9850},{"t":-0.025,"m":0.9838},{"t":-0.020,"m":0.9829},{"t":-0.015,"m":0.9822},{"t":-0.010,"m":0.9818},{"t":-0.005,"m":0.9815},{"t":0.0,"m":0.9814},{"t":0.005,"m":0.9815},{"t":0.010,"m":0.9817},{"t":0.015,"m":0.9820},{"t":0.020,"m":0.9825},{"t":0.025,"m":0.9833},{"t":0.030,"m":0.9845},{"t":0.034,"m":0.9860},{"t":0.036,"m":0.9875},{"t":0.038,"m":0.9900},{"t":0.040,"m":0.9930},{"t":0.042,"m":0.9960},{"t":0.044,"m":0.9985},{"t":0.046,"m":1.0},{"t":0.137,"m":1.0}],
 "fluxD": [{"t":-0.1368,"f":1.0001,"e":0.0033},{"t":-0.1337,"f":1.0002,"e":0.0033},{"t":-0.1306,"f":1.0007,"e":0.0033},{"t":-0.1275,"f":1.0002,"e":0.0033},{"t":-0.1242,"f":0.9913,"e":0.0033},{"t":-0.1212,"f":0.9985,"e":0.0033},{"t":-0.1183,"f":0.9981,"e":0.0033},{"t":-0.1154,"f":0.9993,"e":0.0033},{"t":-0.1125,"f":0.9946,"e":0.0033},{"t":-0.1095,"f":0.9991,"e":0.0033},{"t":-0.1064,"f":0.9955,"e":0.0033},{"t":-0.1032,"f":1.0057,"e":0.0033},{"t":-0.1003,"f":0.9956,"e":0.0033},{"t":-0.0972,"f":1.0004,"e":0.0033},{"t":-0.0942,"f":0.9961,"e":0.0033},{"t":-0.0911,"f":1.0028,"e":0.0033},{"t":-0.0880,"f":0.9983,"e":0.0033},{"t":-0.0851,"f":0.9946,"e":0.0033},{"t":-0.0821,"f":0.9910,"e":0.0033},{"t":-0.0792,"f":0.9955,"e":0.0033},{"t":-0.0763,"f":0.9930,"e":0.0033},{"t":-0.0734,"f":0.9975,"e":0.0033},{"t":-0.0704,"f":1.0057,"e":0.0033},{"t":-0.0673,"f":0.9955,"e":0.0033},{"t":-0.0642,"f":0.9944,"e":0.0033},{"t":-0.0614,"f":1.0032,"e":0.0033},{"t":-0.0581,"f":1.0006,"e":0.0033},{"t":-0.0552,"f":1.0016,"e":0.0033},{"t":-0.0521,"f":1.0040,"e":0.0033},{"t":-0.0494,"f":1.0013,"e":0.0033},{"t":-0.0461,"f":0.9942,"e":0.0033},{"t":-0.0432,"f":0.9966,"e":0.0033},{"t":-0.0344,"f":0.9812,"e":0.0033},{"t":-0.0315,"f":0.9851,"e":0.0033},{"t":-0.0284,"f":0.9812,"e":0.0033},{"t":-0.0223,"f":0.9868,"e":0.0033},{"t":-0.0194,"f":0.9861,"e":0.0033},{"t":-0.0165,"f":0.9802,"e":0.0033},{"t":-0.0135,"f":0.9838,"e":0.0033},{"t":-0.0104,"f":0.9795,"e":0.0033},{"t":-0.0075,"f":0.9797,"e":0.0033},{"t":-0.0046,"f":0.9772,"e":0.0033},{"t":-0.0017,"f":0.9772,"e":0.0033},{"t":0.0014,"f":0.9806,"e":0.0033},{"t":0.0046,"f":0.9820,"e":0.0033},{"t":0.0075,"f":0.9821,"e":0.0033},{"t":0.0104,"f":0.9838,"e":0.0033},{"t":0.0133,"f":0.9870,"e":0.0033},{"t":0.0192,"f":0.9789,"e":0.0033},{"t":0.0223,"f":0.9841,"e":0.0033},{"t":0.0254,"f":0.9789,"e":0.0033},{"t":0.0284,"f":0.9828,"e":0.0033},{"t":0.0315,"f":0.9838,"e":0.0033},{"t":0.0344,"f":0.9861,"e":0.0033},{"t":0.0374,"f":0.9841,"e":0.0033},{"t":0.0403,"f":0.9953,"e":0.0033},{"t":0.0434,"f":0.9994,"e":0.0033},{"t":0.0462,"f":0.9904,"e":0.0098}],
 "resD": [{"t":-0.1368,"r":0.0,"e":0.0033},{"t":-0.1337,"r":0.0,"e":0.0033},{"t":-0.1306,"r":0.0004,"e":0.0033},{"t":-0.1275,"r":-0.0001,"e":0.0033},{"t":-0.1242,"r":-0.0090,"e":0.0033},{"t":-0.1212,"r":-0.0015,"e":0.0033},{"t":-0.1183,"r":-0.0022,"e":0.0033},{"t":-0.1154,"r":-0.0007,"e":0.0033},{"t":-0.1125,"r":-0.0058,"e":0.0033},{"t":-0.1095,"r":-0.0009,"e":0.0033},{"t":-0.1064,"r":-0.0047,"e":0.0033},{"t":-0.1032,"r":0.0057,"e":0.0033},{"t":-0.1003,"r":-0.0043,"e":0.0033},{"t":-0.0972,"r":0.0001,"e":0.0033},{"t":-0.0942,"r":-0.0036,"e":0.0033},{"t":-0.0911,"r":0.0030,"e":0.0033},{"t":-0.0880,"r":-0.0020,"e":0.0033},{"t":-0.0851,"r":-0.0058,"e":0.0033},{"t":-0.0821,"r":-0.0092,"e":0.0033},{"t":-0.0792,"r":-0.0045,"e":0.0033},{"t":-0.0763,"r":-0.0074,"e":0.0033},{"t":-0.0734,"r":-0.0028,"e":0.0033},{"t":-0.0704,"r":0.0060,"e":0.0033},{"t":-0.0673,"r":-0.0047,"e":0.0033},{"t":-0.0642,"r":-0.0058,"e":0.0033},{"t":-0.0614,"r":0.0036,"e":0.0033},{"t":-0.0581,"r":0.0010,"e":0.0033},{"t":-0.0552,"r":0.0018,"e":0.0033},{"t":-0.0521,"r":0.0041,"e":0.0033},{"t":-0.0494,"r":0.0015,"e":0.0033},{"t":-0.0461,"r":-0.0032,"e":0.0033},{"t":-0.0432,"r":-0.0008,"e":0.0033},{"t":-0.0401,"r":0.0014,"e":0.0033},{"t":-0.0374,"r":-0.0002,"e":0.0033},{"t":-0.0344,"r":-0.0015,"e":0.0033},{"t":-0.0315,"r":-0.0038,"e":0.0033},{"t":-0.0284,"r":-0.0002,"e":0.0033},{"t":-0.0254,"r":-0.0007,"e":0.0033},{"t":-0.0223,"r":0.0041,"e":0.0033},{"t":-0.0194,"r":0.0035,"e":0.0033},{"t":-0.0165,"r":-0.0020,"e":0.0033},{"t":-0.0135,"r":0.0018,"e":0.0033},{"t":-0.0104,"r":-0.0024,"e":0.0033},{"t":-0.0075,"r":-0.0018,"e":0.0033},{"t":-0.0046,"r":-0.0043,"e":0.0033},{"t":-0.0017,"r":-0.0043,"e":0.0033},{"t":0.0046,"r":0.0008,"e":0.0033},{"t":0.0075,"r":0.0012,"e":0.0033},{"t":0.0104,"r":0.0025,"e":0.0033},{"t":0.0133,"r":0.0052,"e":0.0033},{"t":0.0192,"r":-0.0036,"e":0.0033},{"t":0.0223,"r":0.0013,"e":0.0033},{"t":0.0254,"r":-0.0041,"e":0.0033},{"t":0.0284,"r":0.0,"e":0.0033},{"t":0.0315,"r":0.0004,"e":0.0033},{"t":0.0344,"r":0.0015,"e":0.0033},{"t":0.0374,"r":-0.0034,"e":0.0033},{"t":0.0403,"r":0.0012,"e":0.0033},{"t":0.0434,"r":-0.0028,"e":0.0033},{"t":0.0462,"r":-0.0096,"e":0.0098}],
 "modE": [{"t":-0.137,"m":0.9994},{"t":-0.046,"m":0.9994},{"t":-0.044,"m":0.9980},{"t":-0.042,"m":0.9955},{"t":-0.040,"m":0.9925},{"t":-0.038,"m":0.9895},{"t":-0.036,"m":0.9868},{"t":-0.034,"m":0.9852},{"t":-0.030,"m":0.9838},{"t":-0.025,"m":0.9825},{"t":-0.020,"m":0.9815},{"t":-0.015,"m":0.9808},{"t":-0.010,"m":0.9803},{"t":-0.005,"m":0.9800},{"t":0.0,"m":0.9799},{"t":0.005,"m":0.9800},{"t":0.010,"m":0.9803},{"t":0.015,"m":0.9808},{"t":0.020,"m":0.9815},{"t":0.025,"m":0.9825},{"t":0.030,"m":0.9838},{"t":0.034,"m":0.9852},{"t":0.036,"m":0.9868},{"t":0.038,"m":0.9895},{"t":0.040,"m":0.9925},{"t":0.042,"m":0.9955},{"t":0.044,"m":0.9980},{"t":0.046,"m":0.9994},{"t":0.137,"m":0.9994}],
 "fluxE": [{"t":-0.1359,"f":0.9900,"e":0.0045},{"t":-0.1330,"f":1.0022,"e":0.0045},{"t":-0.1301,"f":1.0016,"e":0.0045},{"t":-0.1272,"f":0.9977,"e":0.0045},{"t":-0.1239,"f":1.0102,"e":0.0045},{"t":-0.1209,"f":1.0075,"e":0.0045},{"t":-0.1180,"f":1.0032,"e":0.0045},{"t":-0.1149,"f":1.0047,"e":0.0045},{"t":-0.1120,"f":1.0004,"e":0.0045},{"t":-0.1091,"f":0.9997,"e":0.0045},{"t":-0.1061,"f":0.9900,"e":0.0045},{"t":-0.1030,"f":0.9929,"e":0.0045},{"t":-0.1001,"f":0.9915,"e":0.0045},{"t":-0.0972,"f":1.0097,"e":0.0045},{"t":-0.0940,"f":0.9969,"e":0.0045},{"t":-0.0911,"f":1.0017,"e":0.0045},{"t":-0.0882,"f":1.0025,"e":0.0045},{"t":-0.0851,"f":0.9992,"e":0.0045},{"t":-0.0822,"f":1.0005,"e":0.0045},{"t":-0.0792,"f":1.0007,"e":0.0045},{"t":-0.0761,"f":0.9925,"e":0.0045},{"t":-0.0732,"f":1.0075,"e":0.0045},{"t":-0.0701,"f":1.0002,"e":0.0045},{"t":-0.0672,"f":1.0045,"e":0.0045},{"t":-0.0643,"f":0.9965,"e":0.0045},{"t":-0.0612,"f":1.0062,"e":0.0045},{"t":-0.0583,"f":0.9895,"e":0.0045},{"t":-0.0523,"f":1.0109,"e":0.0045},{"t":-0.0400,"f":1.0016,"e":0.0045},{"t":-0.0371,"f":0.9849,"e":0.0045},{"t":-0.0342,"f":0.9837,"e":0.0045},{"t":-0.0311,"f":0.9875,"e":0.0045},{"t":-0.0282,"f":0.9825,"e":0.0045},{"t":-0.0251,"f":0.9802,"e":0.0045},{"t":-0.0222,"f":0.9819,"e":0.0045},{"t":-0.0193,"f":0.9787,"e":0.0045},{"t":-0.0162,"f":0.9752,"e":0.0045},{"t":-0.0133,"f":0.9777,"e":0.0045},{"t":-0.0101,"f":0.9882,"e":0.0045},{"t":-0.0072,"f":0.9767,"e":0.0045},{"t":-0.0043,"f":0.9839,"e":0.0045},{"t":-0.0013,"f":0.9757,"e":0.0045},{"t":0.0016,"f":0.9785,"e":0.0045},{"t":0.0045,"f":0.9779,"e":0.0045},{"t":0.0076,"f":0.9729,"e":0.0045},{"t":0.0108,"f":0.9882,"e":0.0045},{"t":0.0137,"f":0.9775,"e":0.0045},{"t":0.0168,"f":0.9812,"e":0.0045},{"t":0.0197,"f":0.9875,"e":0.0045},{"t":0.0226,"f":0.9772,"e":0.0045},{"t":0.0256,"f":0.9747,"e":0.0045},{"t":0.0287,"f":0.9742,"e":0.0045},{"t":0.0316,"f":0.9819,"e":0.0045},{"t":0.0348,"f":0.9802,"e":0.0045},{"t":0.0377,"f":0.9812,"e":0.0045},{"t":0.0406,"f":0.9983,"e":0.0045},{"t":0.0438,"f":1.0013,"e":0.0045},{"t":0.0467,"f":1.0032,"e":0.0045},{"t":0.0499,"f":0.9915,"e":0.0045},{"t":0.0528,"f":1.0062,"e":0.0045},{"t":0.0557,"f":1.0042,"e":0.0045},{"t":0.0588,"f":0.9942,"e":0.0045},{"t":0.0618,"f":0.9852,"e":0.0045},{"t":0.0647,"f":0.9915,"e":0.0045},{"t":0.0678,"f":1.0109,"e":0.0045},{"t":0.0708,"f":1.0025,"e":0.0045},{"t":0.0739,"f":0.9945,"e":0.0045},{"t":0.0768,"f":0.9952,"e":0.0045},{"t":0.0800,"f":1.0032,"e":0.0045},{"t":0.0829,"f":1.0017,"e":0.0045},{"t":0.0858,"f":1.0112,"e":0.0045},{"t":0.0887,"f":1.0095,"e":0.0045},{"t":0.0919,"f":0.9969,"e":0.0045},{"t":0.0948,"f":1.0067,"e":0.0045},{"t":0.0979,"f":1.0065,"e":0.0045},{"t":0.1008,"f":1.0008,"e":0.0045},{"t":0.1038,"f":1.0038,"e":0.0045},{"t":0.1067,"f":0.9915,"e":0.0045}],
 "resE": [{"t":-0.1359,"r":-0.0096,"e":0.0045},{"t":-0.1330,"r":0.0028,"e":0.0045},{"t":-0.1301,"r":0.0021,"e":0.0045},{"t":-0.1272,"r":-0.0007,"e":0.0045},{"t":-0.1239,"r":0.0105,"e":0.0045},{"t":-0.1209,"r":0.0080,"e":0.0045},{"t":-0.1180,"r":0.0039,"e":0.0045},{"t":-0.1149,"r":0.0051,"e":0.0045},{"t":-0.1120,"r":0.0004,"e":0.0045},{"t":-0.1091,"r":0.0004,"e":0.0045},{"t":-0.1061,"r":-0.0095,"e":0.0045},{"t":-0.1030,"r":-0.0065,"e":0.0045},{"t":-0.1001,"r":-0.0079,"e":0.0045},{"t":-0.0972,"r":0.0105,"e":0.0045},{"t":-0.0940,"r":-0.0028,"e":0.0045},{"t":-0.0911,"r":0.0021,"e":0.0045},{"t":-0.0882,"r":0.0029,"e":0.0045},{"t":-0.0851,"r":0.0,"e":0.0045},{"t":-0.0822,"r":0.0004,"e":0.0045},{"t":-0.0792,"r":0.0011,"e":0.0045},{"t":-0.0761,"r":-0.0072,"e":0.0045},{"t":-0.0732,"r":0.0079,"e":0.0045},{"t":-0.0701,"r":0.0004,"e":0.0045},{"t":-0.0672,"r":0.0048,"e":0.0045},{"t":-0.0643,"r":-0.0034,"e":0.0045},{"t":-0.0612,"r":0.0063,"e":0.0045},{"t":-0.0583,"r":-0.0101,"e":0.0045},{"t":-0.0553,"r":0.0241,"e":0.0045},{"t":-0.0523,"r":0.0131,"e":0.0045},{"t":-0.0400,"r":0.0077,"e":0.0045},{"t":-0.0371,"r":-0.0044,"e":0.0045},{"t":-0.0342,"r":0.0004,"e":0.0045},{"t":-0.0311,"r":0.0022,"e":0.0045},{"t":-0.0282,"r":0.0014,"e":0.0045},{"t":-0.0251,"r":-0.0010,"e":0.0045},{"t":-0.0222,"r":0.0014,"e":0.0045},{"t":-0.0193,"r":-0.0030,"e":0.0045},{"t":-0.0162,"r":-0.0084,"e":0.0045},{"t":-0.0133,"r":-0.0023,"e":0.0045},{"t":-0.0101,"r":0.0080,"e":0.0045},{"t":-0.0072,"r":-0.0021,"e":0.0045},{"t":-0.0043,"r":0.0043,"e":0.0045},{"t":-0.0013,"r":-0.0030,"e":0.0045},{"t":0.0016,"r":-0.0007,"e":0.0045},{"t":0.0045,"r":-0.0014,"e":0.0045},{"t":0.0076,"r":-0.0110,"e":0.0045},{"t":0.0108,"r":0.0080,"e":0.0045},{"t":0.0137,"r":-0.0028,"e":0.0045},{"t":0.0168,"r":0.0018,"e":0.0045},{"t":0.0197,"r":0.0069,"e":0.0045},{"t":0.0226,"r":-0.0032,"e":0.0045},{"t":0.0256,"r":-0.0055,"e":0.0045},{"t":0.0287,"r":-0.0081,"e":0.0045},{"t":0.0316,"r":0.0015,"e":0.0045},{"t":0.0348,"r":-0.0059,"e":0.0045},{"t":0.0377,"r":-0.0106,"e":0.0045},{"t":0.0406,"r":0.0,"e":0.0045},{"t":0.0438,"r":0.0029,"e":0.0045},{"t":0.0467,"r":0.0036,"e":0.0045},{"t":0.0499,"r":-0.0079,"e":0.0045},{"t":0.0528,"r":0.0066,"e":0.0045},{"t":0.0557,"r":0.0048,"e":0.0045},{"t":0.0588,"r":-0.0055,"e":0.0045},{"t":0.0618,"r":-0.0145,"e":0.0045},{"t":0.0647,"r":-0.0081,"e":0.0045},{"t":0.0678,"r":0.0121,"e":0.0045},{"t":0.0708,"r":0.0028,"e":0.0045},{"t":0.0739,"r":-0.0051,"e":0.0045},{"t":0.0768,"r":-0.0041,"e":0.0045},{"t":0.0800,"r":0.0036,"e":0.0045},{"t":0.0829,"r":0.0021,"e":0.0045},{"t":0.0858,"r":0.0158,"e":0.0045},{"t":0.0887,"r":0.0101,"e":0.0045},{"t":0.0919,"r":-0.0026,"e":0.0045},{"t":0.0948,"r":0.0073,"e":0.0045},{"t":0.0979,"r":0.0069,"e":0.0045},{"t":0.1008,"r":0.0014,"e":0.0045},{"t":0.1038,"r":0.0043,"e":0.0045},{"t":0.1067,"r":-0.0083,"e":0.0045}]
},
"vconcat": [
 {
  "width": 1194, "height": 348,
  "title": {"text": "(a) Raw TESS Photometry for TOI-3629", "offset": 0},
  "layer": [
   {
    "layer": [
     {"data": {"name": "ptsA"}, "mark": {"type": "errorbar", "color": "#555555", "opacity": 0.7, "thickness": 1.2},
      "encoding": {"x": {"field": "t", "type": "quantitative", "scale": {"domain": [1763.52, 1789.62], "nice": false, "zero": false}, "axis": null},
                   "y": {"field": "f", "type": "quantitative", "scale": {"domain": [0.97156, 1.01136], "nice": false, "zero": false}, "axis": null},
                   "yError": {"field": "e"}}},
     {"data": {"name": "ptsA"}, "mark": {"type": "point", "filled": true, "size": 7, "color": "#222222", "opacity": 0.9},
      "encoding": {"x": {"field": "t", "type": "quantitative", "axis": null}, "y": {"field": "f", "type": "quantitative", "axis": null}}},
     {"data": {"name": "gpA"}, "mark": {"type": "line", "color": "#1e90ff", "strokeWidth": 3.5},
      "encoding": {"x": {"field": "t", "type": "quantitative", "axis": {"orient": "bottom", "title": "BTJD", "values": [1765, 1770, 1775, 1780, 1785], "format": "d"}},
                   "y": {"field": "g", "type": "quantitative", "axis": {"orient": "left", "title": "Median Normalized Flux", "values": [0.98, 0.99, 1.0, 1.01], "format": ".2f"}}}},
     {"data": {"name": "trA"}, "mark": {"type": "point", "filled": true, "fill": "#eef4fb", "size": 260, "opacity": 1},
      "encoding": {"x": {"field": "t", "type": "quantitative", "axis": null},
                   "y": {"datum": 1.0081, "type": "quantitative", "axis": {"orient": "right", "labels": false, "title": null, "values": [0.98, 0.99, 1.0, 1.01]}},
                   "shape": {"datum": "Transits", "type": "nominal",
                             "scale": {"domain": ["Gaussian process model", "Transits"], "range": ["M-2.9,0H2.9", "triangle-down"]},
                             "legend": {"title": null, "orient": "none", "legendX": 12, "legendY": 293, "direction": "horizontal", "columns": 2, "columnPadding": 44, "padding": 8, "strokeColor": "#cccccc", "fillColor": "white", "cornerRadius": 5, "labelFont": "Liberation Serif", "labelFontSize": 25, "labelColor": "black", "labelOffset": 33, "labelLimit": 400, "symbolSize": 360, "symbolOffset": 18, "symbolStrokeWidth": 2.5}},
                   "stroke": {"datum": "Transits", "type": "nominal",
                             "scale": {"domain": ["Gaussian process model", "Transits"], "range": ["#1e90ff", "#333333"]},
                             "legend": {"title": null, "orient": "none", "legendX": 12, "legendY": 293, "direction": "horizontal", "columns": 2, "columnPadding": 44, "padding": 8, "strokeColor": "#cccccc", "fillColor": "white", "cornerRadius": 5, "labelFont": "Liberation Serif", "labelFontSize": 25, "labelColor": "black", "labelOffset": 33, "labelLimit": 400, "symbolSize": 360, "symbolOffset": 18, "symbolStrokeWidth": 2.5}}}}
    ],
    "resolve": {"axis": {"y": "independent"}}
   },
   {"data": {"values": [{"d": "2019-10-20T00:00:00Z"}]}, "mark": {"type": "point", "opacity": 0},
    "encoding": {"x": {"field": "d", "type": "temporal",
                       "scale": {"type": "utc", "domain": [{"year": 2019, "month": 10, "date": 7, "hours": 0, "minutes": 29, "utc": true}, {"year": 2019, "month": 11, "date": 2, "hours": 2, "minutes": 53, "utc": true}]},
                       "axis": {"orient": "top", "title": "Date (midnight UTC)", "format": "%Y-%m-%d",
                                "values": [{"year": 2019, "month": 10, "date": 8, "utc": true}, {"year": 2019, "month": 10, "date": 13, "utc": true}, {"year": 2019, "month": 10, "date": 18, "utc": true}, {"year": 2019, "month": 10, "date": 23, "utc": true}, {"year": 2019, "month": 10, "date": 28, "utc": true}, {"year": 2019, "month": 11, "date": 2, "utc": true}]}}}}
  ],
  "resolve": {"scale": {"x": "independent"}, "axis": {"x": "independent"}}
 },
 {
  "spacing": 17,
  "vconcat": [
   {
    "columns": 2, "spacing": {"row": 0, "column": 90}, "bounds": "flush",
    "concat": [
       {
        "width": 552, "height": 132,
        "title": {"text": "(b) TESS"},
        "layer": [
         {"data": {"name": "fluxB"}, "mark": {"type": "errorbar", "color": "#444444", "opacity": 0.75, "thickness": 1.2, "clip": true},
          "encoding": {"x": {"field": "t", "type": "quantitative", "scale": {"domain": [-0.15, 0.15], "nice": false, "zero": false}, "axis": null},
                       "y": {"field": "f", "type": "quantitative", "scale": {"domain": [0.9718, 1.0106], "nice": false, "zero": false}, "axis": null},
                       "yError": {"field": "e"}}},
         {"data": {"name": "fluxB"}, "mark": {"type": "point", "filled": true, "size": 7, "color": "#111111", "opacity": 1, "clip": true},
          "encoding": {"x": {"field": "t", "type": "quantitative", "axis": null}, "y": {"field": "f", "type": "quantitative", "axis": null}}},
         {"data": {"name": "modB"}, "mark": {"type": "line", "color": "#d04848", "strokeWidth": 11, "opacity": 0.35},
          "encoding": {"x": {"field": "t", "type": "quantitative", "axis": {"orient": "bottom", "labels": false, "title": null, "values": [-0.15, -0.1, -0.05, 0, 0.05, 0.1, 0.15]}},
                       "y": {"field": "m", "type": "quantitative", "axis": {"orient": "left", "title": ["Normalized", "Flux"], "values": [0.98, 1.0], "format": ".2f"}}}},
         {"data": {"name": "modB"}, "mark": {"type": "line", "color": "#b51f1f", "strokeWidth": 5, "opacity": 0.75},
          "encoding": {"x": {"field": "t", "type": "quantitative", "axis": {"orient": "top", "labels": false, "title": null, "values": [-0.15, -0.1, -0.05, 0, 0.05, 0.1, 0.15]}},
                       "y": {"field": "m", "type": "quantitative", "axis": {"orient": "right", "labels": false, "title": null, "values": [0.98, 1.0]}}}},
         {"data": {"name": "modB"}, "mark": {"type": "line", "color": "black", "strokeWidth": 1.2, "strokeDash": [4, 3]},
          "encoding": {"x": {"field": "t", "type": "quantitative", "axis": null}, "y": {"field": "m", "type": "quantitative", "axis": null}}}
        ],
        "resolve": {"axis": {"x": "independent", "y": "independent"}}
       },
       {
        "width": 552, "height": 132,
        "title": {"text": "(c) Kuiper in R (2021-10-16)"},
        "layer": [
         {"data": {"name": "fluxC"}, "mark": {"type": "errorbar", "color": "#444444", "opacity": 0.7, "thickness": 1.1, "clip": true},
          "encoding": {"x": {"field": "t", "type": "quantitative", "scale": {"domain": [-0.15, 0.15], "nice": false, "zero": false}, "axis": null},
                       "y": {"field": "f", "type": "quantitative", "scale": {"domain": [0.9714, 1.0114], "nice": false, "zero": false}, "axis": null},
                       "yError": {"field": "e"}}},
         {"data": {"name": "fluxC"}, "mark": {"type": "point", "filled": true, "size": 7, "color": "#111111", "opacity": 1, "clip": true},
          "encoding": {"x": {"field": "t", "type": "quantitative", "axis": null}, "y": {"field": "f", "type": "quantitative", "axis": null}}},
         {"data": {"name": "modC"}, "mark": {"type": "line", "color": "#d04848", "strokeWidth": 11, "opacity": 0.35},
          "encoding": {"x": {"field": "t", "type": "quantitative", "axis": {"orient": "bottom", "labels": false, "title": null, "values": [-0.15, -0.1, -0.05, 0, 0.05, 0.1, 0.15]}},
                       "y": {"field": "m", "type": "quantitative", "axis": {"orient": "left", "title": null, "values": [0.98, 1.0], "format": ".2f"}}}},
         {"data": {"name": "modC"}, "mark": {"type": "line", "color": "#b51f1f", "strokeWidth": 5, "opacity": 0.75},
          "encoding": {"x": {"field": "t", "type": "quantitative", "axis": {"orient": "top", "labels": false, "title": null, "values": [-0.15, -0.1, -0.05, 0, 0.05, 0.1, 0.15]}},
                       "y": {"field": "m", "type": "quantitative", "axis": {"orient": "right", "labels": false, "title": null, "values": [0.98, 1.0]}}}},
         {"data": {"name": "modC"}, "mark": {"type": "line", "color": "black", "strokeWidth": 1.2, "strokeDash": [4, 3]},
          "encoding": {"x": {"field": "t", "type": "quantitative", "axis": null}, "y": {"field": "m", "type": "quantitative", "axis": null}}}
        ],
        "resolve": {"axis": {"x": "independent", "y": "independent"}}
       },
       {
        "width": 552, "height": 127,
        "layer": [
         {"data": {"values": [{}]}, "mark": {"type": "rule", "color": "black", "strokeWidth": 1, "strokeDash": [3, 2]},
          "encoding": {"y": {"datum": 0, "type": "quantitative", "axis": null}}},
         {"data": {"name": "resB"}, "mark": {"type": "errorbar", "color": "#444444", "opacity": 0.75, "thickness": 1.2, "clip": true},
          "encoding": {"x": {"field": "t", "type": "quantitative", "scale": {"domain": [-0.15, 0.15], "nice": false, "zero": false}, "axis": {"orient": "bottom", "title": "Days from mid-transit", "titlePadding": 2, "values": [-0.15, -0.1, -0.05, 0, 0.05, 0.1, 0.15], "format": ".2f"}},
                       "y": {"field": "r", "type": "quantitative", "scale": {"domain": [-0.0058, 0.00743], "nice": false, "zero": false}, "axis": {"orient": "left", "title": "Residuals", "values": [-0.005, 0, 0.005], "format": ".3f"}},
                       "yError": {"field": "e"}}},
         {"data": {"name": "resB"}, "mark": {"type": "point", "filled": true, "size": 7, "color": "#111111", "opacity": 1, "clip": true},
          "encoding": {"x": {"field": "t", "type": "quantitative", "axis": {"orient": "top", "labels": false, "title": null, "values": [-0.15, -0.1, -0.05, 0, 0.05, 0.1, 0.15]}},
                       "y": {"field": "r", "type": "quantitative", "axis": {"orient": "right", "labels": false, "title": null, "values": [-0.005, 0, 0.005]}}}},
         {"data": {"values": [{}]}, "mark": {"type": "text", "align": "left", "baseline": "middle", "font": "Liberation Serif", "fontSize": 22, "color": "black"},
          "encoding": {"x": {"datum": -0.14, "type": "quantitative", "axis": null}, "y": {"datum": 0.0043, "type": "quantitative", "axis": null}, "text": {"value": "RMSE = 1920 (ppm)"}}}
        ],
        "resolve": {"axis": {"x": "independent", "y": "independent"}}
       },
       {
        "width": 552, "height": 127,
        "layer": [
         {"data": {"values": [{}]}, "mark": {"type": "rule", "color": "black", "strokeWidth": 1, "strokeDash": [3, 2]},
          "encoding": {"y": {"datum": 0, "type": "quantitative", "axis": null}}},
         {"data": {"name": "resC"}, "mark": {"type": "errorbar", "color": "#444444", "opacity": 0.7, "thickness": 1.1, "clip": true},
          "encoding": {"x": {"field": "t", "type": "quantitative", "scale": {"domain": [-0.15, 0.15], "nice": false, "zero": false}, "axis": {"orient": "bottom", "title": "Days from mid-transit", "titlePadding": 2, "values": [-0.15, -0.1, -0.05, 0, 0.05, 0.1, 0.15], "format": ".2f"}},
                       "y": {"field": "r", "type": "quantitative", "scale": {"domain": [-0.00887, 0.009], "nice": false, "zero": false}, "axis": {"orient": "left", "title": null, "values": [-0.005, 0, 0.005], "format": ".3f"}},
                       "yError": {"field": "e"}}},
         {"data": {"name": "resC"}, "mark": {"type": "point", "filled": true, "size": 7, "color": "#111111", "opacity": 1, "clip": true},
          "encoding": {"x": {"field": "t", "type": "quantitative", "axis": {"orient": "top", "labels": false, "title": null, "values": [-0.15, -0.1, -0.05, 0, 0.05, 0.1, 0.15]}},
                       "y": {"field": "r", "type": "quantitative", "axis": {"orient": "right", "labels": false, "title": null, "values": [-0.005, 0, 0.005]}}}},
         {"data": {"values": [{}]}, "mark": {"type": "text", "align": "left", "baseline": "middle", "font": "Liberation Serif", "fontSize": 22, "color": "black"},
          "encoding": {"x": {"datum": -0.1403, "type": "quantitative", "axis": null}, "y": {"datum": -0.0052, "type": "quantitative", "axis": null}, "text": {"value": "RMSE = 2215 (ppm)"}}}
        ],
        "resolve": {"axis": {"x": "independent", "y": "independent"}}
       }
    ]
   },
   {
    "columns": 2, "spacing": {"row": 0, "column": 90}, "bounds": "flush",
    "concat": [
       {
        "width": 552, "height": 132,
        "title": {"text": "(d) RBO in I (2021-09-26)"},
        "layer": [
         {"data": {"name": "fluxD"}, "mark": {"type": "errorbar", "color": "#444444", "opacity": 0.75, "thickness": 1.2, "clip": true},
          "encoding": {"x": {"field": "t", "type": "quantitative", "scale": {"domain": [-0.15, 0.15], "nice": false, "zero": false}, "axis": null},
                       "y": {"field": "f", "type": "quantitative", "scale": {"domain": [0.9719, 1.0107], "nice": false, "zero": false}, "axis": null},
                       "yError": {"field": "e"}}},
         {"data": {"name": "fluxD"}, "mark": {"type": "point", "filled": true, "size": 7, "color": "#111111", "opacity": 1, "clip": true},
          "encoding": {"x": {"field": "t", "type": "quantitative", "axis": null}, "y": {"field": "f", "type": "quantitative", "axis": null}}},
         {"data": {"name": "modD"}, "mark": {"type": "line", "color": "#d04848", "strokeWidth": 11, "opacity": 0.35},
          "encoding": {"x": {"field": "t", "type": "quantitative", "axis": {"orient": "bottom", "labels": false, "title": null, "values": [-0.15, -0.1, -0.05, 0, 0.05, 0.1, 0.15]}},
                       "y": {"field": "m", "type": "quantitative", "axis": {"orient": "left", "title": ["Normalized", "Flux"], "values": [0.98, 1.0], "format": ".2f"}}}},
         {"data": {"name": "modD"}, "mark": {"type": "line", "color": "#b51f1f", "strokeWidth": 5, "opacity": 0.75},
          "encoding": {"x": {"field": "t", "type": "quantitative", "axis": {"orient": "top", "labels": false, "title": null, "values": [-0.15, -0.1, -0.05, 0, 0.05, 0.1, 0.15]}},
                       "y": {"field": "m", "type": "quantitative", "axis": {"orient": "right", "labels": false, "title": null, "values": [0.98, 1.0]}}}},
         {"data": {"name": "modD"}, "mark": {"type": "line", "color": "black", "strokeWidth": 1.2, "strokeDash": [4, 3]},
          "encoding": {"x": {"field": "t", "type": "quantitative", "axis": null}, "y": {"field": "m", "type": "quantitative", "axis": null}}}
        ],
        "resolve": {"axis": {"x": "independent", "y": "independent"}}
       },
       {
        "width": 552, "height": 132,
        "title": {"text": "(e) RBO in V (2021-10-04)"},
        "layer": [
         {"data": {"name": "fluxE"}, "mark": {"type": "errorbar", "color": "#444444", "opacity": 0.75, "thickness": 1.2, "clip": true},
          "encoding": {"x": {"field": "t", "type": "quantitative", "scale": {"domain": [-0.15, 0.15], "nice": false, "zero": false}, "axis": null},
                       "y": {"field": "f", "type": "quantitative", "scale": {"domain": [0.9717, 1.0113], "nice": false, "zero": false}, "axis": null},
                       "yError": {"field": "e"}}},
         {"data": {"name": "fluxE"}, "mark": {"type": "point", "filled": true, "size": 7, "color": "#111111", "opacity": 1, "clip": true},
          "encoding": {"x": {"field": "t", "type": "quantitative", "axis": null}, "y": {"field": "f", "type": "quantitative", "axis": null}}},
         {"data": {"name": "modE"}, "mark": {"type": "line", "color": "#d04848", "strokeWidth": 11, "opacity": 0.35},
          "encoding": {"x": {"field": "t", "type": "quantitative", "axis": {"orient": "bottom", "labels": false, "title": null, "values": [-0.15, -0.1, -0.05, 0, 0.05, 0.1, 0.15]}},
                       "y": {"field": "m", "type": "quantitative", "axis": {"orient": "left", "title": null, "values": [0.98, 1.0], "format": ".2f"}}}},
         {"data": {"name": "modE"}, "mark": {"type": "line", "color": "#b51f1f", "strokeWidth": 5, "opacity": 0.75},
          "encoding": {"x": {"field": "t", "type": "quantitative", "axis": {"orient": "top", "labels": false, "title": null, "values": [-0.15, -0.1, -0.05, 0, 0.05, 0.1, 0.15]}},
                       "y": {"field": "m", "type": "quantitative", "axis": {"orient": "right", "labels": false, "title": null, "values": [0.98, 1.0]}}}},
         {"data": {"name": "modE"}, "mark": {"type": "line", "color": "black", "strokeWidth": 1.2, "strokeDash": [4, 3]},
          "encoding": {"x": {"field": "t", "type": "quantitative", "axis": null}, "y": {"field": "m", "type": "quantitative", "axis": null}}}
        ],
        "resolve": {"axis": {"x": "independent", "y": "independent"}}
       },
       {
        "width": 552, "height": 128,
        "layer": [
         {"data": {"values": [{}]}, "mark": {"type": "rule", "color": "black", "strokeWidth": 1, "strokeDash": [3, 2]},
          "encoding": {"y": {"datum": 0, "type": "quantitative", "axis": null}}},
         {"data": {"name": "resD"}, "mark": {"type": "errorbar", "color": "#444444", "opacity": 0.75, "thickness": 1.2, "clip": true},
          "encoding": {"x": {"field": "t", "type": "quantitative", "scale": {"domain": [-0.15, 0.15], "nice": false, "zero": false}, "axis": {"orient": "bottom", "title": "Days from mid-transit", "titlePadding": 2, "values": [-0.15, -0.1, -0.05, 0, 0.05, 0.1, 0.15], "format": ".2f"}},
                       "y": {"field": "r", "type": "quantitative", "scale": {"domain": [-0.0204, 0.0106], "nice": false, "zero": false}, "axis": {"orient": "left", "title": "Residuals", "values": [-0.02, 0], "format": ".2f"}},
                       "yError": {"field": "e"}}},
         {"data": {"name": "resD"}, "mark": {"type": "point", "filled": true, "size": 7, "color": "#111111", "opacity": 1, "clip": true},
          "encoding": {"x": {"field": "t", "type": "quantitative", "axis": {"orient": "top", "labels": false, "title": null, "values": [-0.15, -0.1, -0.05, 0, 0.05, 0.1, 0.15]}},
                       "y": {"field": "r", "type": "quantitative", "axis": {"orient": "right", "labels": false, "title": null, "values": [-0.02, 0]}}}},
         {"data": {"values": [{}]}, "mark": {"type": "text", "align": "left", "baseline": "middle", "font": "Liberation Serif", "fontSize": 22, "color": "black"},
          "encoding": {"x": {"datum": -0.1398, "type": "quantitative", "axis": null}, "y": {"datum": -0.0138, "type": "quantitative", "axis": null}, "text": {"value": "RMSE = 3703 (ppm)"}}}
        ],
        "resolve": {"axis": {"x": "independent", "y": "independent"}}
       },
       {
        "width": 552, "height": 128,
        "layer": [
         {"data": {"values": [{}]}, "mark": {"type": "rule", "color": "black", "strokeWidth": 1, "strokeDash": [3, 2]},
          "encoding": {"y": {"datum": 0, "type": "quantitative", "axis": null}}},
         {"data": {"name": "resE"}, "mark": {"type": "errorbar", "color": "#444444", "opacity": 0.75, "thickness": 1.2, "clip": true},
          "encoding": {"x": {"field": "t", "type": "quantitative", "scale": {"domain": [-0.15, 0.15], "nice": false, "zero": false}, "axis": {"orient": "bottom", "title": "Days from mid-transit", "titlePadding": 2, "values": [-0.15, -0.1, -0.05, 0, 0.05, 0.1, 0.15], "format": ".2f"}},
                       "y": {"field": "r", "type": "quantitative", "scale": {"domain": [-0.0194, 0.0335], "nice": false, "zero": false}, "axis": {"orient": "left", "title": null, "values": [-0.02, 0, 0.02], "format": ".2f"}},
                       "yError": {"field": "e"}}},
         {"data": {"name": "resE"}, "mark": {"type": "point", "filled": true, "size": 7, "color": "#111111", "opacity": 1, "clip": true},
          "encoding": {"x": {"field": "t", "type": "quantitative", "axis": {"orient": "top", "labels": false, "title": null, "values": [-0.15, -0.1, -0.05, 0, 0.05, 0.1, 0.15]}},
                       "y": {"field": "r", "type": "quantitative", "axis": {"orient": "right", "labels": false, "title": null, "values": [-0.02, 0, 0.02]}}}},
         {"data": {"values": [{}]}, "mark": {"type": "text", "align": "right", "baseline": "middle", "font": "Liberation Serif", "fontSize": 22, "color": "black"},
          "encoding": {"x": {"datum": 0.1398, "type": "quantitative", "axis": null}, "y": {"datum": 0.0211, "type": "quantitative", "axis": null}, "text": {"value": "RMSE = 6639 (ppm)"}}}
        ],
        "resolve": {"axis": {"x": "independent", "y": "independent"}}
       }
    ]
   }
  ]
 }
]
}
